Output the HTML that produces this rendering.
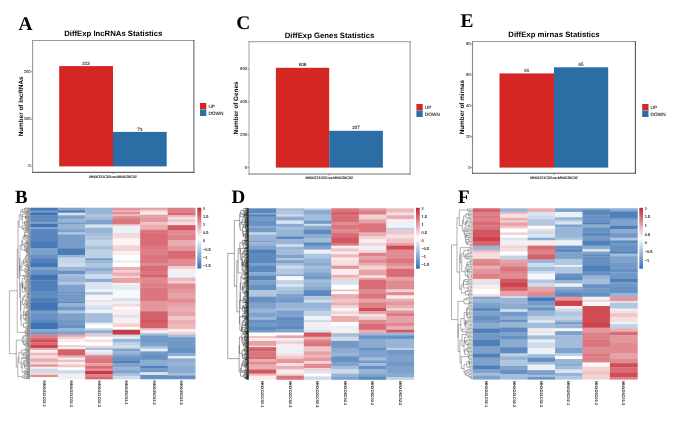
<!DOCTYPE html>
<html><head><meta charset="utf-8"><style>
html,body{margin:0;padding:0;background:#fff;width:685px;height:431px;overflow:hidden}
svg{display:block}
text{font-family:"Liberation Sans",sans-serif;text-rendering:geometricPrecision}
.L{font-family:"Liberation Serif",serif;font-weight:bold;font-size:19.4px;fill:#000}
.T{font-weight:bold;font-size:7.75px;fill:#000}
.V{font-size:4.6px;fill:#222;stroke:#222;stroke-width:0.08px}
.K{font-size:4.2px;fill:#333;stroke:#333;stroke-width:0.1px}
.X{font-size:3.67px;fill:#111;stroke:#111;stroke-width:0.12px}
.Y{font-weight:bold;font-size:6.35px;fill:#000}
.G{font-size:4.77px;fill:#222;stroke:#222;stroke-width:0.1px}
.C{font-size:3.85px;fill:#111;font-weight:bold}
.H{font-size:3.9px;fill:#222;stroke:#222;stroke-width:0.12px}
</style></head><body>
<svg width="685" height="431" viewBox="0 0 685 431" style="will-change:transform">
<text x="18.6" y="29.6" class="L">A</text>
<text x="113.25" y="36.40" class="T" text-anchor="middle">DiffExp lncRNAs Statistics</text>
<rect x="59.2" y="66.1" width="53.80" height="100.30" fill="#d42622"/>
<text x="86.10" y="65.0" class="V" text-anchor="middle">212</text>
<rect x="113.0" y="131.9" width="53.70" height="34.50" fill="#2b6ea6"/>
<text x="139.85" y="130.6" class="V" text-anchor="middle">73</text>
<line x1="32.6" y1="40.0" x2="32.6" y2="172.9" stroke="#999" stroke-width="1.1"/>
<line x1="32.1" y1="40.5" x2="194.4" y2="40.5" stroke="#999" stroke-width="1.1"/>
<line x1="193.9" y1="40.0" x2="193.9" y2="172.9" stroke="#666" stroke-width="1.1"/>
<line x1="32.1" y1="172.4" x2="194.4" y2="172.4" stroke="#666" stroke-width="1.1"/>
<line x1="31.0" y1="166.4" x2="32.6" y2="166.4" stroke="#555" stroke-width="0.6"/>
<text x="30.700000000000003" y="167.3" class="K" text-anchor="end">0</text>
<line x1="31.0" y1="119.1" x2="32.6" y2="119.1" stroke="#555" stroke-width="0.6"/>
<text x="30.700000000000003" y="120.0" class="K" text-anchor="end">100</text>
<line x1="31.0" y1="71.8" x2="32.6" y2="71.8" stroke="#555" stroke-width="0.6"/>
<text x="30.700000000000003" y="72.7" class="K" text-anchor="end">200</text>
<line x1="113.0" y1="172.4" x2="113.0" y2="174.0" stroke="#555" stroke-width="0.6"/>
<text x="113.0" y="177.8" class="X" text-anchor="middle">MNXO21C02-vs-MNXO5C02</text>
<text transform="translate(22.5,106.4) rotate(-90)" class="Y" text-anchor="middle">Number of lncRNAs</text>
<rect x="200" y="103" width="6.3" height="6.4" fill="#d42622"/>
<rect x="200" y="109.6" width="6.3" height="6.4" fill="#2b6ea6"/>
<text x="208.4" y="107.9" class="G">UP</text>
<text x="208.4" y="114.5" class="G">DOWN</text>
<text x="236.3" y="28.8" class="L">C</text>
<text x="329.55" y="37.50" class="T" text-anchor="middle">DiffExp Genes Statistics</text>
<rect x="275.9" y="67.8" width="53.30" height="99.80" fill="#d42622"/>
<text x="302.55" y="66.3" class="V" text-anchor="middle">608</text>
<rect x="329.2" y="130.8" width="53.70" height="36.80" fill="#2b6ea6"/>
<text x="356.05" y="129.2" class="V" text-anchor="middle">227</text>
<line x1="249.0" y1="41.1" x2="249.0" y2="174.5" stroke="#aaa" stroke-width="1.1"/>
<line x1="248.5" y1="41.6" x2="410.6" y2="41.6" stroke="#aaa" stroke-width="1.1"/>
<line x1="410.1" y1="41.1" x2="410.1" y2="174.5" stroke="#999" stroke-width="1.1"/>
<line x1="248.5" y1="174.0" x2="410.6" y2="174.0" stroke="#707070" stroke-width="1.1"/>
<line x1="247.4" y1="167.6" x2="249.0" y2="167.6" stroke="#555" stroke-width="0.6"/>
<text x="247.1" y="168.5" class="K" text-anchor="end">0</text>
<line x1="247.4" y1="134.8" x2="249.0" y2="134.8" stroke="#555" stroke-width="0.6"/>
<text x="247.1" y="135.70000000000002" class="K" text-anchor="end">200</text>
<line x1="247.4" y1="101.9" x2="249.0" y2="101.9" stroke="#555" stroke-width="0.6"/>
<text x="247.1" y="102.80000000000001" class="K" text-anchor="end">400</text>
<line x1="247.4" y1="69.1" x2="249.0" y2="69.1" stroke="#555" stroke-width="0.6"/>
<text x="247.1" y="70.0" class="K" text-anchor="end">600</text>
<line x1="329.2" y1="174.0" x2="329.2" y2="175.6" stroke="#555" stroke-width="0.6"/>
<text x="329.2" y="179.4" class="X" text-anchor="middle">MNXG21C02-vs-MNXG5C02</text>
<text transform="translate(238.2,108) rotate(-90)" class="Y" text-anchor="middle">Number of Genes</text>
<rect x="416.4" y="104" width="6.3" height="6.4" fill="#d42622"/>
<rect x="416.4" y="110.6" width="6.3" height="6.4" fill="#2b6ea6"/>
<text x="424.79999999999995" y="108.9" class="G">UP</text>
<text x="424.79999999999995" y="115.5" class="G">DOWN</text>
<text x="460.5" y="26.8" class="L">E</text>
<text x="553.95" y="37.40" class="T" text-anchor="middle">DiffExp mirnas Statistics</text>
<rect x="499.5" y="73.4" width="54.50" height="94.20" fill="#d42622"/>
<text x="526.75" y="71.8" class="V" text-anchor="middle">61</text>
<rect x="554.0" y="67.3" width="54.20" height="100.30" fill="#2b6ea6"/>
<text x="581.10" y="65.7" class="V" text-anchor="middle">65</text>
<line x1="472.5" y1="41.0" x2="472.5" y2="173.8" stroke="#888" stroke-width="1.1"/>
<line x1="472.0" y1="41.5" x2="635.9" y2="41.5" stroke="#999" stroke-width="1.1"/>
<line x1="635.4" y1="41.0" x2="635.4" y2="173.8" stroke="#555" stroke-width="1.1"/>
<line x1="472.0" y1="173.3" x2="635.9" y2="173.3" stroke="#555" stroke-width="1.1"/>
<line x1="470.9" y1="167.6" x2="472.5" y2="167.6" stroke="#555" stroke-width="0.6"/>
<text x="470.6" y="168.5" class="K" text-anchor="end">0</text>
<line x1="470.9" y1="136.7" x2="472.5" y2="136.7" stroke="#555" stroke-width="0.6"/>
<text x="470.6" y="137.6" class="K" text-anchor="end">20</text>
<line x1="470.9" y1="105.8" x2="472.5" y2="105.8" stroke="#555" stroke-width="0.6"/>
<text x="470.6" y="106.7" class="K" text-anchor="end">40</text>
<line x1="470.9" y1="74.9" x2="472.5" y2="74.9" stroke="#555" stroke-width="0.6"/>
<text x="470.6" y="75.80000000000001" class="K" text-anchor="end">60</text>
<line x1="470.9" y1="44.0" x2="472.5" y2="44.0" stroke="#555" stroke-width="0.6"/>
<text x="470.6" y="44.9" class="K" text-anchor="end">80</text>
<line x1="554.0" y1="173.3" x2="554.0" y2="174.9" stroke="#555" stroke-width="0.6"/>
<text x="554.0" y="178.70000000000002" class="X" text-anchor="middle">MNXO21C02-vs-MNXO5C02</text>
<text transform="translate(463.8,107.2) rotate(-90)" class="Y" text-anchor="middle">Number of mirnas</text>
<rect x="642.2" y="104" width="6.3" height="6.4" fill="#d42622"/>
<rect x="642.2" y="110.6" width="6.3" height="6.4" fill="#2b6ea6"/>
<text x="650.6" y="108.9" class="G">UP</text>
<text x="650.6" y="115.5" class="G">DOWN</text>
<text x="15.0" y="203.2" class="L" style="font-size:18.8px">B</text>
<text x="231.4" y="202.8" class="L" style="font-size:19px">D</text>
<text x="457.9" y="202.8" class="L" style="font-size:19px">F</text>
<rect x="30.20" y="207.70" width="27.80" height="3.23" fill="#4578b5"/>
<rect x="30.20" y="210.63" width="27.80" height="2.28" fill="#739ac7"/>
<rect x="30.20" y="212.61" width="27.80" height="2.94" fill="#3a70b0"/>
<rect x="30.20" y="215.25" width="27.80" height="6.91" fill="#5c89be"/>
<rect x="30.20" y="221.86" width="27.80" height="2.28" fill="#7fa2cc"/>
<rect x="30.20" y="223.84" width="27.80" height="3.60" fill="#4075b3"/>
<rect x="30.20" y="227.15" width="27.80" height="2.28" fill="#7fa2cc"/>
<rect x="30.20" y="229.13" width="27.80" height="12.86" fill="#5785bc"/>
<rect x="30.20" y="241.69" width="27.80" height="6.91" fill="#497bb6"/>
<rect x="30.20" y="248.29" width="27.80" height="6.25" fill="#7fa2cc"/>
<rect x="30.20" y="254.24" width="27.80" height="4.27" fill="#6791c2"/>
<rect x="30.20" y="258.21" width="27.80" height="5.06" fill="#5080b9"/>
<rect x="30.20" y="262.97" width="27.80" height="4.30" fill="#4075b3"/>
<rect x="30.20" y="266.97" width="27.80" height="2.94" fill="#7fa2cc"/>
<rect x="30.20" y="269.61" width="27.80" height="5.59" fill="#6791c2"/>
<rect x="30.20" y="274.90" width="27.80" height="5.59" fill="#4075b3"/>
<rect x="30.20" y="280.18" width="27.80" height="10.87" fill="#5080b9"/>
<rect x="30.20" y="290.76" width="27.80" height="6.91" fill="#608cc0"/>
<rect x="30.20" y="297.36" width="27.80" height="5.59" fill="#5080b9"/>
<rect x="30.20" y="302.65" width="27.80" height="8.23" fill="#4075b3"/>
<rect x="30.20" y="310.58" width="27.80" height="2.94" fill="#739ac7"/>
<rect x="30.20" y="313.22" width="27.80" height="7.04" fill="#6791c2"/>
<rect x="30.20" y="319.97" width="27.80" height="3.12" fill="#5c89be"/>
<rect x="30.20" y="322.79" width="27.80" height="6.57" fill="#4075b3"/>
<rect x="30.20" y="329.05" width="27.80" height="2.39" fill="#8babd1"/>
<rect x="30.20" y="331.14" width="27.80" height="3.78" fill="#739ac7"/>
<rect x="30.20" y="334.62" width="27.80" height="3.09" fill="#dd8188"/>
<rect x="30.20" y="337.41" width="27.80" height="2.39" fill="#d86b74"/>
<rect x="30.20" y="339.50" width="27.80" height="3.09" fill="#d04d56"/>
<rect x="30.20" y="342.28" width="27.80" height="3.09" fill="#d86b74"/>
<rect x="30.20" y="345.07" width="27.80" height="3.09" fill="#cd424d"/>
<rect x="30.20" y="347.86" width="27.80" height="2.39" fill="#e9adb2"/>
<rect x="30.20" y="349.94" width="27.80" height="3.09" fill="#faedee"/>
<rect x="30.20" y="352.73" width="27.80" height="3.09" fill="#ecb9bd"/>
<rect x="30.20" y="355.52" width="27.80" height="3.09" fill="#f6dfe1"/>
<rect x="30.20" y="358.30" width="27.80" height="3.78" fill="#e9adb2"/>
<rect x="30.20" y="361.78" width="27.80" height="3.09" fill="#f3d2d4"/>
<rect x="30.20" y="364.57" width="27.80" height="2.39" fill="#e08b92"/>
<rect x="30.20" y="366.66" width="27.80" height="2.39" fill="#faedee"/>
<rect x="30.20" y="368.75" width="27.80" height="3.78" fill="#cddbeb"/>
<rect x="30.20" y="372.23" width="27.80" height="3.09" fill="#f3d2d4"/>
<rect x="30.20" y="375.01" width="27.80" height="2.39" fill="#e08b92"/>
<rect x="30.20" y="377.10" width="27.80" height="2.20" fill="#ffffff"/>
<rect x="57.70" y="207.70" width="27.80" height="3.23" fill="#7fa2cc"/>
<rect x="57.70" y="210.63" width="27.80" height="2.28" fill="#4075b3"/>
<rect x="57.70" y="212.61" width="27.80" height="2.94" fill="#d5e1ee"/>
<rect x="57.70" y="215.25" width="27.80" height="4.27" fill="#7fa2cc"/>
<rect x="57.70" y="219.22" width="27.80" height="3.60" fill="#98b4d6"/>
<rect x="57.70" y="222.52" width="27.80" height="2.28" fill="#739ac7"/>
<rect x="57.70" y="224.50" width="27.80" height="4.93" fill="#98b4d6"/>
<rect x="57.70" y="229.13" width="27.80" height="3.60" fill="#7fa2cc"/>
<rect x="57.70" y="232.43" width="27.80" height="2.28" fill="#b1c7e0"/>
<rect x="57.70" y="234.42" width="27.80" height="14.18" fill="#789dc9"/>
<rect x="57.70" y="248.29" width="27.80" height="6.91" fill="#497bb6"/>
<rect x="57.70" y="254.90" width="27.80" height="2.94" fill="#98b4d6"/>
<rect x="57.70" y="257.55" width="27.80" height="5.72" fill="#c4d5e8"/>
<rect x="57.70" y="262.97" width="27.80" height="4.30" fill="#cddbeb"/>
<rect x="57.70" y="266.97" width="27.80" height="4.27" fill="#98b4d6"/>
<rect x="57.70" y="270.93" width="27.80" height="3.60" fill="#6791c2"/>
<rect x="57.70" y="274.23" width="27.80" height="2.28" fill="#a4bddb"/>
<rect x="57.70" y="276.22" width="27.80" height="6.25" fill="#98b4d6"/>
<rect x="57.70" y="282.16" width="27.80" height="2.94" fill="#b1c7e0"/>
<rect x="57.70" y="284.81" width="27.80" height="6.91" fill="#7fa2cc"/>
<rect x="57.70" y="291.42" width="27.80" height="2.28" fill="#6791c2"/>
<rect x="57.70" y="293.40" width="27.80" height="8.23" fill="#739ac7"/>
<rect x="57.70" y="301.33" width="27.80" height="2.28" fill="#5c89be"/>
<rect x="57.70" y="303.31" width="27.80" height="3.60" fill="#98b4d6"/>
<rect x="57.70" y="306.62" width="27.80" height="4.27" fill="#739ac7"/>
<rect x="57.70" y="310.58" width="27.80" height="2.94" fill="#b1c7e0"/>
<rect x="57.70" y="313.22" width="27.80" height="7.04" fill="#7fa2cc"/>
<rect x="57.70" y="319.97" width="27.80" height="4.51" fill="#739ac7"/>
<rect x="57.70" y="324.18" width="27.80" height="4.48" fill="#6791c2"/>
<rect x="57.70" y="328.36" width="27.80" height="3.09" fill="#98b4d6"/>
<rect x="57.70" y="331.14" width="27.80" height="3.78" fill="#7fa2cc"/>
<rect x="57.70" y="334.62" width="27.80" height="2.39" fill="#e6a2a7"/>
<rect x="57.70" y="336.71" width="27.80" height="2.39" fill="#f3d2d4"/>
<rect x="57.70" y="338.80" width="27.80" height="3.78" fill="#faedee"/>
<rect x="57.70" y="342.28" width="27.80" height="3.09" fill="#ffffff"/>
<rect x="57.70" y="345.07" width="27.80" height="2.39" fill="#f3d2d4"/>
<rect x="57.70" y="347.16" width="27.80" height="2.39" fill="#ebf1f7"/>
<rect x="57.70" y="349.25" width="27.80" height="6.57" fill="#d5616a"/>
<rect x="57.70" y="355.52" width="27.80" height="2.39" fill="#e9adb2"/>
<rect x="57.70" y="357.60" width="27.80" height="2.39" fill="#faedee"/>
<rect x="57.70" y="359.69" width="27.80" height="2.39" fill="#ecb9bd"/>
<rect x="57.70" y="361.78" width="27.80" height="3.09" fill="#faedee"/>
<rect x="57.70" y="364.57" width="27.80" height="3.09" fill="#f0c5c8"/>
<rect x="57.70" y="367.35" width="27.80" height="3.09" fill="#ffffff"/>
<rect x="57.70" y="370.14" width="27.80" height="3.78" fill="#cddbeb"/>
<rect x="57.70" y="373.62" width="27.80" height="3.78" fill="#ebf1f7"/>
<rect x="57.70" y="377.10" width="27.80" height="2.20" fill="#faedee"/>
<rect x="85.20" y="207.70" width="27.80" height="7.19" fill="#98b4d6"/>
<rect x="85.20" y="214.59" width="27.80" height="2.28" fill="#b1c7e0"/>
<rect x="85.20" y="216.57" width="27.80" height="3.60" fill="#a4bddb"/>
<rect x="85.20" y="219.88" width="27.80" height="4.93" fill="#7fa2cc"/>
<rect x="85.20" y="224.50" width="27.80" height="3.60" fill="#d5e1ee"/>
<rect x="85.20" y="227.81" width="27.80" height="5.59" fill="#98b4d6"/>
<rect x="85.20" y="233.09" width="27.80" height="3.60" fill="#a4bddb"/>
<rect x="85.20" y="236.40" width="27.80" height="4.27" fill="#b1c7e0"/>
<rect x="85.20" y="240.36" width="27.80" height="5.59" fill="#c4d5e8"/>
<rect x="85.20" y="245.65" width="27.80" height="4.27" fill="#aac1dd"/>
<rect x="85.20" y="249.62" width="27.80" height="8.89" fill="#bfd1e5"/>
<rect x="85.20" y="258.21" width="27.80" height="2.28" fill="#739ac7"/>
<rect x="85.20" y="260.19" width="27.80" height="3.08" fill="#98b4d6"/>
<rect x="85.20" y="262.97" width="27.80" height="4.96" fill="#b1c7e0"/>
<rect x="85.20" y="267.63" width="27.80" height="3.60" fill="#8babd1"/>
<rect x="85.20" y="270.93" width="27.80" height="3.60" fill="#a4bddb"/>
<rect x="85.20" y="274.23" width="27.80" height="4.93" fill="#cddbeb"/>
<rect x="85.20" y="278.86" width="27.80" height="3.60" fill="#8babd1"/>
<rect x="85.20" y="282.16" width="27.80" height="7.57" fill="#dbe5f1"/>
<rect x="85.20" y="289.43" width="27.80" height="2.94" fill="#ebf1f7"/>
<rect x="85.20" y="292.08" width="27.80" height="2.94" fill="#b1c7e0"/>
<rect x="85.20" y="294.72" width="27.80" height="5.59" fill="#f2f6fa"/>
<rect x="85.20" y="300.01" width="27.80" height="2.28" fill="#f6dfe1"/>
<rect x="85.20" y="301.99" width="27.80" height="3.60" fill="#ebf1f7"/>
<rect x="85.20" y="305.29" width="27.80" height="4.93" fill="#d5e1ee"/>
<rect x="85.20" y="309.92" width="27.80" height="3.60" fill="#ebf1f7"/>
<rect x="85.20" y="313.22" width="27.80" height="7.04" fill="#a4bddb"/>
<rect x="85.20" y="319.97" width="27.80" height="3.12" fill="#a4bddb"/>
<rect x="85.20" y="322.79" width="27.80" height="2.39" fill="#ebf1f7"/>
<rect x="85.20" y="324.87" width="27.80" height="3.78" fill="#ffffff"/>
<rect x="85.20" y="328.36" width="27.80" height="2.39" fill="#bfd1e5"/>
<rect x="85.20" y="330.45" width="27.80" height="3.09" fill="#8babd1"/>
<rect x="85.20" y="333.23" width="27.80" height="1.69" fill="#bfd1e5"/>
<rect x="85.20" y="334.62" width="27.80" height="2.39" fill="#f0c5c8"/>
<rect x="85.20" y="336.71" width="27.80" height="3.09" fill="#ffffff"/>
<rect x="85.20" y="339.50" width="27.80" height="3.09" fill="#f6dfe1"/>
<rect x="85.20" y="342.28" width="27.80" height="3.78" fill="#ffffff"/>
<rect x="85.20" y="345.77" width="27.80" height="2.39" fill="#f3d2d4"/>
<rect x="85.20" y="347.86" width="27.80" height="2.39" fill="#a4bddb"/>
<rect x="85.20" y="349.94" width="27.80" height="2.39" fill="#ebf1f7"/>
<rect x="85.20" y="352.03" width="27.80" height="2.39" fill="#f6dfe1"/>
<rect x="85.20" y="354.12" width="27.80" height="1.69" fill="#bfd1e5"/>
<rect x="85.20" y="355.52" width="27.80" height="3.78" fill="#dd8188"/>
<rect x="85.20" y="359.00" width="27.80" height="4.48" fill="#db767e"/>
<rect x="85.20" y="363.18" width="27.80" height="3.09" fill="#e6a2a7"/>
<rect x="85.20" y="365.96" width="27.80" height="3.09" fill="#d86b74"/>
<rect x="85.20" y="368.75" width="27.80" height="2.39" fill="#e3969c"/>
<rect x="85.20" y="370.84" width="27.80" height="3.78" fill="#ca3944"/>
<rect x="85.20" y="374.32" width="27.80" height="3.09" fill="#dd8188"/>
<rect x="85.20" y="377.10" width="27.80" height="2.20" fill="#d5616a"/>
<rect x="112.70" y="207.70" width="27.80" height="3.20" fill="#e3969c"/>
<rect x="112.70" y="210.60" width="27.80" height="1.70" fill="#ecb9bd"/>
<rect x="112.70" y="212.00" width="27.80" height="2.30" fill="#e08b92"/>
<rect x="112.70" y="214.00" width="27.80" height="2.40" fill="#ecb9bd"/>
<rect x="112.70" y="216.10" width="27.80" height="2.40" fill="#e08b92"/>
<rect x="112.70" y="218.20" width="27.80" height="6.60" fill="#db767e"/>
<rect x="112.70" y="224.50" width="27.80" height="1.70" fill="#f3d2d4"/>
<rect x="112.70" y="225.90" width="27.80" height="7.30" fill="#ebf1f7"/>
<rect x="112.70" y="232.90" width="27.80" height="5.80" fill="#f5d9dc"/>
<rect x="112.70" y="238.40" width="27.80" height="7.30" fill="#fcf3f4"/>
<rect x="112.70" y="245.40" width="27.80" height="5.90" fill="#f3d2d4"/>
<rect x="112.70" y="251.00" width="27.80" height="4.40" fill="#faedee"/>
<rect x="112.70" y="255.10" width="27.80" height="5.20" fill="#ffffff"/>
<rect x="112.70" y="260.00" width="27.80" height="3.30" fill="#ebf1f7"/>
<rect x="112.70" y="263.00" width="27.80" height="4.20" fill="#ffffff"/>
<rect x="112.70" y="266.90" width="27.80" height="3.80" fill="#e9adb2"/>
<rect x="112.70" y="270.40" width="27.80" height="2.30" fill="#f3d2d4"/>
<rect x="112.70" y="272.40" width="27.80" height="3.80" fill="#e9adb2"/>
<rect x="112.70" y="275.90" width="27.80" height="2.40" fill="#f3d2d4"/>
<rect x="112.70" y="278.00" width="27.80" height="5.20" fill="#e6a2a7"/>
<rect x="112.70" y="282.90" width="27.80" height="2.40" fill="#faedee"/>
<rect x="112.70" y="285.00" width="27.80" height="5.20" fill="#e2eaf3"/>
<rect x="112.70" y="289.90" width="27.80" height="8.60" fill="#f6f8fb"/>
<rect x="112.70" y="298.20" width="27.80" height="3.10" fill="#d5e1ee"/>
<rect x="112.70" y="301.00" width="27.80" height="3.10" fill="#faedee"/>
<rect x="112.70" y="303.80" width="27.80" height="3.10" fill="#f5d9dc"/>
<rect x="112.70" y="306.60" width="27.80" height="3.70" fill="#fdf7f7"/>
<rect x="112.70" y="310.00" width="27.80" height="5.20" fill="#faedee"/>
<rect x="112.70" y="314.90" width="27.80" height="3.10" fill="#dbe5f1"/>
<rect x="112.70" y="317.70" width="27.80" height="2.60" fill="#faedee"/>
<rect x="112.70" y="320.00" width="27.80" height="3.78" fill="#faedee"/>
<rect x="112.70" y="323.48" width="27.80" height="3.78" fill="#f3d2d4"/>
<rect x="112.70" y="326.96" width="27.80" height="3.09" fill="#ffffff"/>
<rect x="112.70" y="329.75" width="27.80" height="5.17" fill="#ca3944"/>
<rect x="112.70" y="334.62" width="27.80" height="2.39" fill="#cddbeb"/>
<rect x="112.70" y="336.71" width="27.80" height="2.39" fill="#ebf1f7"/>
<rect x="112.70" y="338.80" width="27.80" height="3.78" fill="#98b4d6"/>
<rect x="112.70" y="342.28" width="27.80" height="3.09" fill="#bfd1e5"/>
<rect x="112.70" y="345.07" width="27.80" height="3.78" fill="#cddbeb"/>
<rect x="112.70" y="348.55" width="27.80" height="3.09" fill="#7fa2cc"/>
<rect x="112.70" y="351.34" width="27.80" height="3.09" fill="#98b4d6"/>
<rect x="112.70" y="354.12" width="27.80" height="3.09" fill="#7fa2cc"/>
<rect x="112.70" y="356.91" width="27.80" height="3.78" fill="#6791c2"/>
<rect x="112.70" y="360.39" width="27.80" height="3.09" fill="#5080b9"/>
<rect x="112.70" y="363.18" width="27.80" height="4.48" fill="#7fa2cc"/>
<rect x="112.70" y="367.35" width="27.80" height="3.09" fill="#98b4d6"/>
<rect x="112.70" y="370.14" width="27.80" height="3.09" fill="#7fa2cc"/>
<rect x="112.70" y="372.92" width="27.80" height="3.09" fill="#a4bddb"/>
<rect x="112.70" y="375.71" width="27.80" height="3.59" fill="#cddbeb"/>
<rect x="140.20" y="207.70" width="27.80" height="2.57" fill="#e6a2a7"/>
<rect x="140.20" y="209.97" width="27.80" height="2.28" fill="#f3d2d4"/>
<rect x="140.20" y="211.95" width="27.80" height="2.94" fill="#faedee"/>
<rect x="140.20" y="214.59" width="27.80" height="2.94" fill="#e6a2a7"/>
<rect x="140.20" y="217.23" width="27.80" height="4.93" fill="#e3969c"/>
<rect x="140.20" y="221.86" width="27.80" height="2.94" fill="#f0c5c8"/>
<rect x="140.20" y="224.50" width="27.80" height="5.59" fill="#e9adb2"/>
<rect x="140.20" y="229.79" width="27.80" height="4.27" fill="#db767e"/>
<rect x="140.20" y="233.76" width="27.80" height="12.20" fill="#d86b74"/>
<rect x="140.20" y="245.65" width="27.80" height="4.27" fill="#db767e"/>
<rect x="140.20" y="249.62" width="27.80" height="5.59" fill="#dd8188"/>
<rect x="140.20" y="254.90" width="27.80" height="8.36" fill="#db767e"/>
<rect x="140.20" y="262.97" width="27.80" height="2.98" fill="#e08b92"/>
<rect x="140.20" y="265.64" width="27.80" height="6.25" fill="#d86b74"/>
<rect x="140.20" y="271.59" width="27.80" height="3.60" fill="#db767e"/>
<rect x="140.20" y="274.90" width="27.80" height="2.94" fill="#d5616a"/>
<rect x="140.20" y="277.54" width="27.80" height="5.59" fill="#e08b92"/>
<rect x="140.20" y="282.83" width="27.80" height="4.93" fill="#dd8188"/>
<rect x="140.20" y="287.45" width="27.80" height="14.18" fill="#db767e"/>
<rect x="140.20" y="301.33" width="27.80" height="10.21" fill="#e3969c"/>
<rect x="140.20" y="311.24" width="27.80" height="9.02" fill="#d5616a"/>
<rect x="140.20" y="319.97" width="27.80" height="3.12" fill="#d25760"/>
<rect x="140.20" y="322.79" width="27.80" height="5.87" fill="#d5616a"/>
<rect x="140.20" y="328.36" width="27.80" height="2.39" fill="#f0c5c8"/>
<rect x="140.20" y="330.45" width="27.80" height="3.09" fill="#faedee"/>
<rect x="140.20" y="333.23" width="27.80" height="2.39" fill="#a4bddb"/>
<rect x="140.20" y="335.32" width="27.80" height="7.96" fill="#739ac7"/>
<rect x="140.20" y="342.98" width="27.80" height="3.78" fill="#7fa2cc"/>
<rect x="140.20" y="346.46" width="27.80" height="2.39" fill="#a4bddb"/>
<rect x="140.20" y="348.55" width="27.80" height="3.09" fill="#e2eaf3"/>
<rect x="140.20" y="351.34" width="27.80" height="3.78" fill="#739ac7"/>
<rect x="140.20" y="354.82" width="27.80" height="5.17" fill="#6791c2"/>
<rect x="140.20" y="359.69" width="27.80" height="6.57" fill="#8babd1"/>
<rect x="140.20" y="365.96" width="27.80" height="2.39" fill="#5080b9"/>
<rect x="140.20" y="368.05" width="27.80" height="4.48" fill="#739ac7"/>
<rect x="140.20" y="372.23" width="27.80" height="3.09" fill="#dbe5f1"/>
<rect x="140.20" y="375.01" width="27.80" height="4.29" fill="#6791c2"/>
<rect x="167.70" y="207.70" width="27.80" height="5.21" fill="#dd8188"/>
<rect x="167.70" y="212.61" width="27.80" height="2.94" fill="#d86b74"/>
<rect x="167.70" y="215.25" width="27.80" height="2.28" fill="#ecb9bd"/>
<rect x="167.70" y="217.23" width="27.80" height="2.28" fill="#f6dfe1"/>
<rect x="167.70" y="219.22" width="27.80" height="2.94" fill="#f0c5c8"/>
<rect x="167.70" y="221.86" width="27.80" height="3.60" fill="#f6dfe1"/>
<rect x="167.70" y="225.16" width="27.80" height="5.59" fill="#d25760"/>
<rect x="167.70" y="230.45" width="27.80" height="4.27" fill="#e08b92"/>
<rect x="167.70" y="234.42" width="27.80" height="6.25" fill="#dd8188"/>
<rect x="167.70" y="240.36" width="27.80" height="5.59" fill="#e9adb2"/>
<rect x="167.70" y="245.65" width="27.80" height="5.59" fill="#e3969c"/>
<rect x="167.70" y="250.94" width="27.80" height="8.23" fill="#d86b74"/>
<rect x="167.70" y="258.87" width="27.80" height="4.40" fill="#e08b92"/>
<rect x="167.70" y="262.97" width="27.80" height="3.64" fill="#e08b92"/>
<rect x="167.70" y="266.30" width="27.80" height="2.94" fill="#f3d2d4"/>
<rect x="167.70" y="268.95" width="27.80" height="2.94" fill="#faedee"/>
<rect x="167.70" y="271.59" width="27.80" height="6.25" fill="#ebf1f7"/>
<rect x="167.70" y="277.54" width="27.80" height="3.60" fill="#ecb9bd"/>
<rect x="167.70" y="280.84" width="27.80" height="2.94" fill="#f3d2d4"/>
<rect x="167.70" y="283.49" width="27.80" height="5.59" fill="#e08b92"/>
<rect x="167.70" y="288.77" width="27.80" height="4.93" fill="#e3969c"/>
<rect x="167.70" y="293.40" width="27.80" height="5.59" fill="#e6a2a7"/>
<rect x="167.70" y="298.69" width="27.80" height="4.27" fill="#e08b92"/>
<rect x="167.70" y="302.65" width="27.80" height="4.27" fill="#e6a2a7"/>
<rect x="167.70" y="306.62" width="27.80" height="4.93" fill="#e9adb2"/>
<rect x="167.70" y="311.24" width="27.80" height="4.93" fill="#e6a2a7"/>
<rect x="167.70" y="315.87" width="27.80" height="4.40" fill="#f0c5c8"/>
<rect x="167.70" y="319.97" width="27.80" height="4.51" fill="#e9adb2"/>
<rect x="167.70" y="324.18" width="27.80" height="5.17" fill="#ecb9bd"/>
<rect x="167.70" y="329.05" width="27.80" height="3.09" fill="#faedee"/>
<rect x="167.70" y="331.84" width="27.80" height="3.09" fill="#f3d2d4"/>
<rect x="167.70" y="334.62" width="27.80" height="3.09" fill="#a4bddb"/>
<rect x="167.70" y="337.41" width="27.80" height="2.39" fill="#6791c2"/>
<rect x="167.70" y="339.50" width="27.80" height="8.66" fill="#739ac7"/>
<rect x="167.70" y="347.86" width="27.80" height="5.87" fill="#6791c2"/>
<rect x="167.70" y="353.43" width="27.80" height="3.09" fill="#8babd1"/>
<rect x="167.70" y="356.21" width="27.80" height="2.39" fill="#ebf1f7"/>
<rect x="167.70" y="358.30" width="27.80" height="3.78" fill="#8babd1"/>
<rect x="167.70" y="361.78" width="27.80" height="4.48" fill="#98b4d6"/>
<rect x="167.70" y="365.96" width="27.80" height="7.26" fill="#8babd1"/>
<rect x="167.70" y="372.92" width="27.80" height="3.09" fill="#a4bddb"/>
<rect x="167.70" y="375.71" width="27.80" height="3.59" fill="#6791c2"/>
<rect x="248.80" y="208.30" width="27.80" height="5.27" fill="#5c89be"/>
<rect x="248.80" y="213.27" width="27.80" height="1.62" fill="#7fa2cc"/>
<rect x="248.80" y="214.59" width="27.80" height="2.28" fill="#5080b9"/>
<rect x="248.80" y="216.57" width="27.80" height="4.27" fill="#739ac7"/>
<rect x="248.80" y="220.54" width="27.80" height="5.59" fill="#6791c2"/>
<rect x="248.80" y="225.83" width="27.80" height="2.28" fill="#8babd1"/>
<rect x="248.80" y="227.81" width="27.80" height="4.93" fill="#739ac7"/>
<rect x="248.80" y="232.43" width="27.80" height="2.28" fill="#cddbeb"/>
<rect x="248.80" y="234.42" width="27.80" height="6.25" fill="#98b4d6"/>
<rect x="248.80" y="240.36" width="27.80" height="2.28" fill="#7fa2cc"/>
<rect x="248.80" y="242.35" width="27.80" height="3.60" fill="#98b4d6"/>
<rect x="248.80" y="245.65" width="27.80" height="4.27" fill="#7fa2cc"/>
<rect x="248.80" y="249.62" width="27.80" height="4.27" fill="#5080b9"/>
<rect x="248.80" y="253.58" width="27.80" height="9.68" fill="#5c89be"/>
<rect x="248.80" y="262.97" width="27.80" height="2.98" fill="#7fa2cc"/>
<rect x="248.80" y="265.64" width="27.80" height="6.91" fill="#5c89be"/>
<rect x="248.80" y="272.25" width="27.80" height="3.60" fill="#8babd1"/>
<rect x="248.80" y="275.56" width="27.80" height="4.93" fill="#5785bc"/>
<rect x="248.80" y="280.18" width="27.80" height="4.93" fill="#7fa2cc"/>
<rect x="248.80" y="284.81" width="27.80" height="5.59" fill="#6791c2"/>
<rect x="248.80" y="290.09" width="27.80" height="6.91" fill="#b1c7e0"/>
<rect x="248.80" y="296.70" width="27.80" height="6.25" fill="#6791c2"/>
<rect x="248.80" y="302.65" width="27.80" height="6.25" fill="#7fa2cc"/>
<rect x="248.80" y="308.60" width="27.80" height="4.27" fill="#98b4d6"/>
<rect x="248.80" y="312.56" width="27.80" height="4.93" fill="#7fa2cc"/>
<rect x="248.80" y="317.19" width="27.80" height="3.08" fill="#98b4d6"/>
<rect x="248.80" y="319.97" width="27.80" height="3.12" fill="#6791c2"/>
<rect x="248.80" y="322.79" width="27.80" height="3.78" fill="#739ac7"/>
<rect x="248.80" y="326.27" width="27.80" height="3.78" fill="#5c89be"/>
<rect x="248.80" y="329.75" width="27.80" height="3.09" fill="#739ac7"/>
<rect x="248.80" y="332.53" width="27.80" height="3.78" fill="#ffffff"/>
<rect x="248.80" y="336.02" width="27.80" height="2.39" fill="#f0c5c8"/>
<rect x="248.80" y="338.11" width="27.80" height="3.09" fill="#faedee"/>
<rect x="248.80" y="340.89" width="27.80" height="5.17" fill="#e6a2a7"/>
<rect x="248.80" y="345.77" width="27.80" height="1.69" fill="#f6dfe1"/>
<rect x="248.80" y="347.16" width="27.80" height="4.48" fill="#d5616a"/>
<rect x="248.80" y="351.34" width="27.80" height="5.17" fill="#db767e"/>
<rect x="248.80" y="356.21" width="27.80" height="3.09" fill="#d86b74"/>
<rect x="248.80" y="359.00" width="27.80" height="3.09" fill="#e9adb2"/>
<rect x="248.80" y="361.78" width="27.80" height="3.09" fill="#e08b92"/>
<rect x="248.80" y="364.57" width="27.80" height="5.17" fill="#e9adb2"/>
<rect x="248.80" y="369.44" width="27.80" height="4.48" fill="#d25760"/>
<rect x="248.80" y="373.62" width="27.80" height="2.39" fill="#ecb9bd"/>
<rect x="248.80" y="375.71" width="27.80" height="4.09" fill="#faedee"/>
<rect x="276.30" y="208.30" width="27.80" height="2.63" fill="#a4bddb"/>
<rect x="276.30" y="210.63" width="27.80" height="4.27" fill="#b1c7e0"/>
<rect x="276.30" y="214.59" width="27.80" height="2.28" fill="#cddbeb"/>
<rect x="276.30" y="216.57" width="27.80" height="4.27" fill="#8babd1"/>
<rect x="276.30" y="220.54" width="27.80" height="3.60" fill="#dbe5f1"/>
<rect x="276.30" y="223.84" width="27.80" height="3.60" fill="#8babd1"/>
<rect x="276.30" y="227.15" width="27.80" height="2.94" fill="#a4bddb"/>
<rect x="276.30" y="229.79" width="27.80" height="6.91" fill="#98b4d6"/>
<rect x="276.30" y="236.40" width="27.80" height="2.94" fill="#5c89be"/>
<rect x="276.30" y="239.04" width="27.80" height="5.59" fill="#98b4d6"/>
<rect x="276.30" y="244.33" width="27.80" height="2.94" fill="#cddbeb"/>
<rect x="276.30" y="246.97" width="27.80" height="2.94" fill="#98b4d6"/>
<rect x="276.30" y="249.62" width="27.80" height="5.59" fill="#a4bddb"/>
<rect x="276.30" y="254.90" width="27.80" height="3.60" fill="#7fa2cc"/>
<rect x="276.30" y="258.21" width="27.80" height="2.28" fill="#b1c7e0"/>
<rect x="276.30" y="260.19" width="27.80" height="3.08" fill="#7fa2cc"/>
<rect x="276.30" y="262.97" width="27.80" height="2.98" fill="#a4bddb"/>
<rect x="276.30" y="265.64" width="27.80" height="2.94" fill="#cddbeb"/>
<rect x="276.30" y="268.29" width="27.80" height="6.25" fill="#b1c7e0"/>
<rect x="276.30" y="274.23" width="27.80" height="2.28" fill="#8babd1"/>
<rect x="276.30" y="276.22" width="27.80" height="4.27" fill="#f6f8fb"/>
<rect x="276.30" y="280.18" width="27.80" height="4.27" fill="#bfd1e5"/>
<rect x="276.30" y="284.15" width="27.80" height="2.94" fill="#dbe5f1"/>
<rect x="276.30" y="286.79" width="27.80" height="4.27" fill="#b1c7e0"/>
<rect x="276.30" y="290.76" width="27.80" height="3.60" fill="#a4bddb"/>
<rect x="276.30" y="294.06" width="27.80" height="4.27" fill="#7fa2cc"/>
<rect x="276.30" y="298.03" width="27.80" height="4.93" fill="#739ac7"/>
<rect x="276.30" y="302.65" width="27.80" height="5.59" fill="#98b4d6"/>
<rect x="276.30" y="307.94" width="27.80" height="2.94" fill="#a4bddb"/>
<rect x="276.30" y="310.58" width="27.80" height="6.91" fill="#7fa2cc"/>
<rect x="276.30" y="317.19" width="27.80" height="3.08" fill="#5c89be"/>
<rect x="276.30" y="319.97" width="27.80" height="5.91" fill="#6791c2"/>
<rect x="276.30" y="325.57" width="27.80" height="3.78" fill="#5c89be"/>
<rect x="276.30" y="329.05" width="27.80" height="3.78" fill="#7fa2cc"/>
<rect x="276.30" y="332.53" width="27.80" height="3.09" fill="#ffffff"/>
<rect x="276.30" y="335.32" width="27.80" height="3.09" fill="#e6a2a7"/>
<rect x="276.30" y="338.11" width="27.80" height="3.09" fill="#ebf1f7"/>
<rect x="276.30" y="340.89" width="27.80" height="3.78" fill="#f3d2d4"/>
<rect x="276.30" y="344.37" width="27.80" height="3.09" fill="#faedee"/>
<rect x="276.30" y="347.16" width="27.80" height="6.57" fill="#ebf1f7"/>
<rect x="276.30" y="353.43" width="27.80" height="3.09" fill="#f6dfe1"/>
<rect x="276.30" y="356.21" width="27.80" height="3.09" fill="#f0c5c8"/>
<rect x="276.30" y="359.00" width="27.80" height="4.48" fill="#e3969c"/>
<rect x="276.30" y="363.18" width="27.80" height="3.09" fill="#f6dfe1"/>
<rect x="276.30" y="365.96" width="27.80" height="3.78" fill="#e9adb2"/>
<rect x="276.30" y="369.44" width="27.80" height="4.48" fill="#faedee"/>
<rect x="276.30" y="373.62" width="27.80" height="2.39" fill="#f3d2d4"/>
<rect x="276.30" y="375.71" width="27.80" height="4.09" fill="#db767e"/>
<rect x="303.80" y="208.30" width="27.80" height="1.97" fill="#bfd1e5"/>
<rect x="303.80" y="209.97" width="27.80" height="4.93" fill="#8babd1"/>
<rect x="303.80" y="214.59" width="27.80" height="6.25" fill="#a4bddb"/>
<rect x="303.80" y="220.54" width="27.80" height="3.60" fill="#739ac7"/>
<rect x="303.80" y="223.84" width="27.80" height="2.28" fill="#cddbeb"/>
<rect x="303.80" y="225.83" width="27.80" height="4.27" fill="#8babd1"/>
<rect x="303.80" y="229.79" width="27.80" height="4.93" fill="#5c89be"/>
<rect x="303.80" y="234.42" width="27.80" height="3.60" fill="#8babd1"/>
<rect x="303.80" y="237.72" width="27.80" height="4.93" fill="#a4bddb"/>
<rect x="303.80" y="242.35" width="27.80" height="3.60" fill="#5c89be"/>
<rect x="303.80" y="245.65" width="27.80" height="4.27" fill="#7fa2cc"/>
<rect x="303.80" y="249.62" width="27.80" height="4.27" fill="#ebf1f7"/>
<rect x="303.80" y="253.58" width="27.80" height="4.93" fill="#b1c7e0"/>
<rect x="303.80" y="258.21" width="27.80" height="5.06" fill="#98b4d6"/>
<rect x="303.80" y="262.97" width="27.80" height="3.64" fill="#8babd1"/>
<rect x="303.80" y="266.30" width="27.80" height="2.94" fill="#a4bddb"/>
<rect x="303.80" y="268.95" width="27.80" height="3.60" fill="#98b4d6"/>
<rect x="303.80" y="272.25" width="27.80" height="3.60" fill="#7fa2cc"/>
<rect x="303.80" y="275.56" width="27.80" height="4.27" fill="#739ac7"/>
<rect x="303.80" y="279.52" width="27.80" height="3.60" fill="#a4bddb"/>
<rect x="303.80" y="282.83" width="27.80" height="3.60" fill="#98b4d6"/>
<rect x="303.80" y="286.13" width="27.80" height="4.27" fill="#8babd1"/>
<rect x="303.80" y="290.09" width="27.80" height="6.25" fill="#5c89be"/>
<rect x="303.80" y="296.04" width="27.80" height="4.27" fill="#b1c7e0"/>
<rect x="303.80" y="300.01" width="27.80" height="2.94" fill="#cddbeb"/>
<rect x="303.80" y="302.65" width="27.80" height="6.25" fill="#98b4d6"/>
<rect x="303.80" y="308.60" width="27.80" height="2.94" fill="#a4bddb"/>
<rect x="303.80" y="311.24" width="27.80" height="4.93" fill="#bfd1e5"/>
<rect x="303.80" y="315.87" width="27.80" height="4.40" fill="#ebf1f7"/>
<rect x="303.80" y="319.97" width="27.80" height="2.42" fill="#cddbeb"/>
<rect x="303.80" y="322.09" width="27.80" height="3.09" fill="#faedee"/>
<rect x="303.80" y="324.87" width="27.80" height="5.17" fill="#ebf1f7"/>
<rect x="303.80" y="329.75" width="27.80" height="3.09" fill="#dbe5f1"/>
<rect x="303.80" y="332.53" width="27.80" height="4.48" fill="#d25760"/>
<rect x="303.80" y="336.71" width="27.80" height="3.09" fill="#e9adb2"/>
<rect x="303.80" y="339.50" width="27.80" height="3.78" fill="#dd8188"/>
<rect x="303.80" y="342.98" width="27.80" height="3.78" fill="#db767e"/>
<rect x="303.80" y="346.46" width="27.80" height="5.17" fill="#f0c5c8"/>
<rect x="303.80" y="351.34" width="27.80" height="3.78" fill="#e6a2a7"/>
<rect x="303.80" y="354.82" width="27.80" height="3.09" fill="#ecb9bd"/>
<rect x="303.80" y="357.60" width="27.80" height="3.78" fill="#e3969c"/>
<rect x="303.80" y="361.09" width="27.80" height="3.09" fill="#f3d2d4"/>
<rect x="303.80" y="363.87" width="27.80" height="4.48" fill="#e08b92"/>
<rect x="303.80" y="368.05" width="27.80" height="3.09" fill="#f3d2d4"/>
<rect x="303.80" y="370.84" width="27.80" height="3.09" fill="#dbe5f1"/>
<rect x="303.80" y="373.62" width="27.80" height="3.09" fill="#ffffff"/>
<rect x="303.80" y="376.41" width="27.80" height="3.39" fill="#cddbeb"/>
<rect x="331.30" y="208.30" width="27.80" height="3.95" fill="#db767e"/>
<rect x="331.30" y="211.95" width="27.80" height="3.60" fill="#d5616a"/>
<rect x="331.30" y="215.25" width="27.80" height="6.91" fill="#d86b74"/>
<rect x="331.30" y="221.86" width="27.80" height="2.94" fill="#e08b92"/>
<rect x="331.30" y="224.50" width="27.80" height="4.93" fill="#db767e"/>
<rect x="331.30" y="229.13" width="27.80" height="4.27" fill="#e08b92"/>
<rect x="331.30" y="233.09" width="27.80" height="4.93" fill="#d86b74"/>
<rect x="331.30" y="237.72" width="27.80" height="5.59" fill="#d25760"/>
<rect x="331.30" y="243.01" width="27.80" height="2.94" fill="#db767e"/>
<rect x="331.30" y="245.65" width="27.80" height="2.94" fill="#faedee"/>
<rect x="331.30" y="248.29" width="27.80" height="3.60" fill="#f0c5c8"/>
<rect x="331.30" y="251.60" width="27.80" height="2.94" fill="#faedee"/>
<rect x="331.30" y="254.24" width="27.80" height="3.60" fill="#ecb9bd"/>
<rect x="331.30" y="257.55" width="27.80" height="2.94" fill="#faedee"/>
<rect x="331.30" y="260.19" width="27.80" height="3.08" fill="#f6dfe1"/>
<rect x="331.30" y="262.97" width="27.80" height="2.98" fill="#f6dfe1"/>
<rect x="331.30" y="265.64" width="27.80" height="3.60" fill="#e3969c"/>
<rect x="331.30" y="268.95" width="27.80" height="6.25" fill="#faedee"/>
<rect x="331.30" y="274.90" width="27.80" height="2.94" fill="#e9adb2"/>
<rect x="331.30" y="277.54" width="27.80" height="2.94" fill="#f3d2d4"/>
<rect x="331.30" y="280.18" width="27.80" height="4.93" fill="#d5e1ee"/>
<rect x="331.30" y="284.81" width="27.80" height="4.93" fill="#ffffff"/>
<rect x="331.30" y="289.43" width="27.80" height="2.28" fill="#f0c5c8"/>
<rect x="331.30" y="291.42" width="27.80" height="2.94" fill="#ffffff"/>
<rect x="331.30" y="294.06" width="27.80" height="4.93" fill="#e9adb2"/>
<rect x="331.30" y="298.69" width="27.80" height="4.27" fill="#f0c5c8"/>
<rect x="331.30" y="302.65" width="27.80" height="2.94" fill="#e9adb2"/>
<rect x="331.30" y="305.29" width="27.80" height="2.94" fill="#f3d2d4"/>
<rect x="331.30" y="307.94" width="27.80" height="3.60" fill="#f2f6fa"/>
<rect x="331.30" y="311.24" width="27.80" height="2.94" fill="#f3d2d4"/>
<rect x="331.30" y="313.89" width="27.80" height="2.28" fill="#faedee"/>
<rect x="331.30" y="315.87" width="27.80" height="4.40" fill="#e9adb2"/>
<rect x="331.30" y="319.97" width="27.80" height="2.42" fill="#e9adb2"/>
<rect x="331.30" y="322.09" width="27.80" height="3.78" fill="#ffffff"/>
<rect x="331.30" y="325.57" width="27.80" height="5.17" fill="#ebf1f7"/>
<rect x="331.30" y="330.45" width="27.80" height="3.09" fill="#faedee"/>
<rect x="331.30" y="333.23" width="27.80" height="3.78" fill="#a4bddb"/>
<rect x="331.30" y="336.71" width="27.80" height="4.48" fill="#cddbeb"/>
<rect x="331.30" y="340.89" width="27.80" height="7.26" fill="#739ac7"/>
<rect x="331.30" y="347.86" width="27.80" height="5.17" fill="#8babd1"/>
<rect x="331.30" y="352.73" width="27.80" height="3.78" fill="#98b4d6"/>
<rect x="331.30" y="356.21" width="27.80" height="5.87" fill="#6791c2"/>
<rect x="331.30" y="361.78" width="27.80" height="4.48" fill="#7fa2cc"/>
<rect x="331.30" y="365.96" width="27.80" height="3.78" fill="#a4bddb"/>
<rect x="331.30" y="369.44" width="27.80" height="4.48" fill="#cddbeb"/>
<rect x="331.30" y="373.62" width="27.80" height="3.09" fill="#98b4d6"/>
<rect x="331.30" y="376.41" width="27.80" height="3.39" fill="#7fa2cc"/>
<rect x="358.80" y="208.30" width="27.80" height="2.63" fill="#e3969c"/>
<rect x="358.80" y="210.63" width="27.80" height="4.27" fill="#dd8188"/>
<rect x="358.80" y="214.59" width="27.80" height="4.93" fill="#f3d2d4"/>
<rect x="358.80" y="219.22" width="27.80" height="4.27" fill="#e6a2a7"/>
<rect x="358.80" y="223.18" width="27.80" height="9.55" fill="#db767e"/>
<rect x="358.80" y="232.43" width="27.80" height="4.27" fill="#e9adb2"/>
<rect x="358.80" y="236.40" width="27.80" height="2.94" fill="#f3d2d4"/>
<rect x="358.80" y="239.04" width="27.80" height="4.27" fill="#faedee"/>
<rect x="358.80" y="243.01" width="27.80" height="2.94" fill="#f3d2d4"/>
<rect x="358.80" y="245.65" width="27.80" height="4.93" fill="#ebf1f7"/>
<rect x="358.80" y="250.28" width="27.80" height="2.94" fill="#f3d2d4"/>
<rect x="358.80" y="252.92" width="27.80" height="3.60" fill="#dd8188"/>
<rect x="358.80" y="256.22" width="27.80" height="3.60" fill="#e6a2a7"/>
<rect x="358.80" y="259.53" width="27.80" height="3.74" fill="#e08b92"/>
<rect x="358.80" y="262.97" width="27.80" height="2.98" fill="#e9adb2"/>
<rect x="358.80" y="265.64" width="27.80" height="4.27" fill="#f3d2d4"/>
<rect x="358.80" y="269.61" width="27.80" height="6.25" fill="#e6a2a7"/>
<rect x="358.80" y="275.56" width="27.80" height="2.28" fill="#faedee"/>
<rect x="358.80" y="277.54" width="27.80" height="2.28" fill="#e9adb2"/>
<rect x="358.80" y="279.52" width="27.80" height="10.21" fill="#d86b74"/>
<rect x="358.80" y="289.43" width="27.80" height="4.27" fill="#e08b92"/>
<rect x="358.80" y="293.40" width="27.80" height="5.59" fill="#db767e"/>
<rect x="358.80" y="298.69" width="27.80" height="4.27" fill="#e6a2a7"/>
<rect x="358.80" y="302.65" width="27.80" height="5.59" fill="#dd8188"/>
<rect x="358.80" y="307.94" width="27.80" height="3.60" fill="#d04d56"/>
<rect x="358.80" y="311.24" width="27.80" height="2.94" fill="#e6a2a7"/>
<rect x="358.80" y="313.89" width="27.80" height="3.60" fill="#f6dfe1"/>
<rect x="358.80" y="317.19" width="27.80" height="3.08" fill="#f0c5c8"/>
<rect x="358.80" y="319.97" width="27.80" height="3.82" fill="#e08b92"/>
<rect x="358.80" y="323.48" width="27.80" height="6.57" fill="#d86b74"/>
<rect x="358.80" y="329.75" width="27.80" height="3.78" fill="#e9adb2"/>
<rect x="358.80" y="333.23" width="27.80" height="2.39" fill="#98b4d6"/>
<rect x="358.80" y="335.32" width="27.80" height="3.78" fill="#6791c2"/>
<rect x="358.80" y="338.80" width="27.80" height="9.35" fill="#8babd1"/>
<rect x="358.80" y="347.86" width="27.80" height="2.39" fill="#6791c2"/>
<rect x="358.80" y="349.94" width="27.80" height="7.96" fill="#7fa2cc"/>
<rect x="358.80" y="357.60" width="27.80" height="3.09" fill="#a4bddb"/>
<rect x="358.80" y="360.39" width="27.80" height="3.09" fill="#739ac7"/>
<rect x="358.80" y="363.18" width="27.80" height="3.09" fill="#a4bddb"/>
<rect x="358.80" y="365.96" width="27.80" height="3.78" fill="#6791c2"/>
<rect x="358.80" y="369.44" width="27.80" height="4.48" fill="#98b4d6"/>
<rect x="358.80" y="373.62" width="27.80" height="3.09" fill="#7fa2cc"/>
<rect x="358.80" y="376.41" width="27.80" height="3.39" fill="#5c89be"/>
<rect x="386.30" y="208.30" width="27.80" height="4.61" fill="#ecb9bd"/>
<rect x="386.30" y="212.61" width="27.80" height="2.94" fill="#f6dfe1"/>
<rect x="386.30" y="215.25" width="27.80" height="4.27" fill="#e9adb2"/>
<rect x="386.30" y="219.22" width="27.80" height="2.94" fill="#faedee"/>
<rect x="386.30" y="221.86" width="27.80" height="6.25" fill="#ebf1f7"/>
<rect x="386.30" y="227.81" width="27.80" height="2.94" fill="#bfd1e5"/>
<rect x="386.30" y="230.45" width="27.80" height="4.27" fill="#f0c5c8"/>
<rect x="386.30" y="234.42" width="27.80" height="4.27" fill="#f6dfe1"/>
<rect x="386.30" y="238.38" width="27.80" height="4.93" fill="#f0c5c8"/>
<rect x="386.30" y="243.01" width="27.80" height="2.94" fill="#e6a2a7"/>
<rect x="386.30" y="245.65" width="27.80" height="4.27" fill="#d04d56"/>
<rect x="386.30" y="249.62" width="27.80" height="4.27" fill="#e08b92"/>
<rect x="386.30" y="253.58" width="27.80" height="5.59" fill="#e08b92"/>
<rect x="386.30" y="258.87" width="27.80" height="4.40" fill="#db767e"/>
<rect x="386.30" y="262.97" width="27.80" height="2.98" fill="#e08b92"/>
<rect x="386.30" y="265.64" width="27.80" height="3.60" fill="#e6a2a7"/>
<rect x="386.30" y="268.95" width="27.80" height="8.23" fill="#d86b74"/>
<rect x="386.30" y="276.88" width="27.80" height="4.27" fill="#e6a2a7"/>
<rect x="386.30" y="280.84" width="27.80" height="8.89" fill="#e08b92"/>
<rect x="386.30" y="289.43" width="27.80" height="2.94" fill="#f3d2d4"/>
<rect x="386.30" y="292.08" width="27.80" height="3.60" fill="#e08b92"/>
<rect x="386.30" y="295.38" width="27.80" height="3.60" fill="#faedee"/>
<rect x="386.30" y="298.69" width="27.80" height="2.94" fill="#e9adb2"/>
<rect x="386.30" y="301.33" width="27.80" height="4.27" fill="#e3969c"/>
<rect x="386.30" y="305.29" width="27.80" height="2.94" fill="#e9adb2"/>
<rect x="386.30" y="307.94" width="27.80" height="2.94" fill="#f3d2d4"/>
<rect x="386.30" y="310.58" width="27.80" height="2.94" fill="#e3969c"/>
<rect x="386.30" y="313.22" width="27.80" height="2.94" fill="#db767e"/>
<rect x="386.30" y="315.87" width="27.80" height="4.40" fill="#e6a2a7"/>
<rect x="386.30" y="319.97" width="27.80" height="3.12" fill="#e6a2a7"/>
<rect x="386.30" y="322.79" width="27.80" height="3.78" fill="#e08b92"/>
<rect x="386.30" y="326.27" width="27.80" height="3.78" fill="#e9adb2"/>
<rect x="386.30" y="329.75" width="27.80" height="3.09" fill="#d25760"/>
<rect x="386.30" y="332.53" width="27.80" height="3.09" fill="#98b4d6"/>
<rect x="386.30" y="335.32" width="27.80" height="3.78" fill="#6791c2"/>
<rect x="386.30" y="338.80" width="27.80" height="9.35" fill="#98b4d6"/>
<rect x="386.30" y="347.86" width="27.80" height="2.39" fill="#bfd1e5"/>
<rect x="386.30" y="349.94" width="27.80" height="5.17" fill="#739ac7"/>
<rect x="386.30" y="354.82" width="27.80" height="7.26" fill="#7fa2cc"/>
<rect x="386.30" y="361.78" width="27.80" height="4.48" fill="#739ac7"/>
<rect x="386.30" y="365.96" width="27.80" height="7.26" fill="#7fa2cc"/>
<rect x="386.30" y="372.92" width="27.80" height="4.48" fill="#8babd1"/>
<rect x="386.30" y="377.10" width="27.80" height="2.70" fill="#bfd1e5"/>
<rect x="472.70" y="208.30" width="27.75" height="3.95" fill="#d5616a"/>
<rect x="472.70" y="211.95" width="27.75" height="3.60" fill="#dd8188"/>
<rect x="472.70" y="215.25" width="27.75" height="3.60" fill="#db767e"/>
<rect x="472.70" y="218.56" width="27.75" height="3.60" fill="#dd8188"/>
<rect x="472.70" y="221.86" width="27.75" height="3.60" fill="#d86b74"/>
<rect x="472.70" y="225.16" width="27.75" height="4.93" fill="#db767e"/>
<rect x="472.70" y="229.79" width="27.75" height="6.91" fill="#d25760"/>
<rect x="472.70" y="236.40" width="27.75" height="4.93" fill="#cd424d"/>
<rect x="472.70" y="241.03" width="27.75" height="4.93" fill="#d5616a"/>
<rect x="472.70" y="245.65" width="27.75" height="4.27" fill="#98b4d6"/>
<rect x="472.70" y="249.62" width="27.75" height="2.28" fill="#e9adb2"/>
<rect x="472.70" y="251.60" width="27.75" height="2.28" fill="#f3d2d4"/>
<rect x="472.70" y="253.58" width="27.75" height="5.59" fill="#f6dfe1"/>
<rect x="472.70" y="258.87" width="27.75" height="4.40" fill="#e08b92"/>
<rect x="472.70" y="262.97" width="27.75" height="2.98" fill="#dd8188"/>
<rect x="472.70" y="265.64" width="27.75" height="3.60" fill="#e9adb2"/>
<rect x="472.70" y="268.95" width="27.75" height="4.93" fill="#e3969c"/>
<rect x="472.70" y="273.57" width="27.75" height="5.59" fill="#dd8188"/>
<rect x="472.70" y="278.86" width="27.75" height="2.94" fill="#f6dfe1"/>
<rect x="472.70" y="281.50" width="27.75" height="3.60" fill="#dbe5f1"/>
<rect x="472.70" y="284.81" width="27.75" height="4.93" fill="#faedee"/>
<rect x="472.70" y="289.43" width="27.75" height="4.93" fill="#ffffff"/>
<rect x="472.70" y="294.06" width="27.75" height="2.94" fill="#f6dfe1"/>
<rect x="472.70" y="296.70" width="27.75" height="2.28" fill="#7fa2cc"/>
<rect x="472.70" y="298.69" width="27.75" height="4.27" fill="#98b4d6"/>
<rect x="472.70" y="302.65" width="27.75" height="5.59" fill="#7fa2cc"/>
<rect x="472.70" y="307.94" width="27.75" height="3.60" fill="#5c89be"/>
<rect x="472.70" y="311.24" width="27.75" height="4.93" fill="#7fa2cc"/>
<rect x="472.70" y="315.87" width="27.75" height="4.40" fill="#6791c2"/>
<rect x="472.70" y="319.97" width="27.75" height="3.12" fill="#739ac7"/>
<rect x="472.70" y="322.79" width="27.75" height="5.87" fill="#8babd1"/>
<rect x="472.70" y="328.36" width="27.75" height="5.17" fill="#5080b9"/>
<rect x="472.70" y="333.23" width="27.75" height="6.57" fill="#739ac7"/>
<rect x="472.70" y="339.50" width="27.75" height="7.26" fill="#5080b9"/>
<rect x="472.70" y="346.46" width="27.75" height="7.26" fill="#7fa2cc"/>
<rect x="472.70" y="353.43" width="27.75" height="4.48" fill="#5080b9"/>
<rect x="472.70" y="357.60" width="27.75" height="7.96" fill="#7fa2cc"/>
<rect x="472.70" y="365.26" width="27.75" height="4.48" fill="#5080b9"/>
<rect x="472.70" y="369.44" width="27.75" height="3.78" fill="#7fa2cc"/>
<rect x="472.70" y="372.92" width="27.75" height="3.09" fill="#a4bddb"/>
<rect x="472.70" y="375.71" width="27.75" height="3.89" fill="#7fa2cc"/>
<rect x="500.15" y="208.30" width="27.75" height="3.95" fill="#98b4d6"/>
<rect x="500.15" y="211.95" width="27.75" height="2.28" fill="#ecb9bd"/>
<rect x="500.15" y="213.93" width="27.75" height="4.27" fill="#f6dfe1"/>
<rect x="500.15" y="217.90" width="27.75" height="2.94" fill="#e9adb2"/>
<rect x="500.15" y="220.54" width="27.75" height="2.28" fill="#f3d2d4"/>
<rect x="500.15" y="222.52" width="27.75" height="3.60" fill="#e6a2a7"/>
<rect x="500.15" y="225.83" width="27.75" height="2.94" fill="#f0c5c8"/>
<rect x="500.15" y="228.47" width="27.75" height="4.27" fill="#ffffff"/>
<rect x="500.15" y="232.43" width="27.75" height="2.94" fill="#f3d2d4"/>
<rect x="500.15" y="235.08" width="27.75" height="2.94" fill="#ffffff"/>
<rect x="500.15" y="237.72" width="27.75" height="2.94" fill="#dbe5f1"/>
<rect x="500.15" y="240.36" width="27.75" height="2.28" fill="#faedee"/>
<rect x="500.15" y="242.35" width="27.75" height="3.60" fill="#ebf1f7"/>
<rect x="500.15" y="245.65" width="27.75" height="2.94" fill="#f3d2d4"/>
<rect x="500.15" y="248.29" width="27.75" height="3.60" fill="#f6dfe1"/>
<rect x="500.15" y="251.60" width="27.75" height="4.27" fill="#ffffff"/>
<rect x="500.15" y="255.56" width="27.75" height="4.27" fill="#bfd1e5"/>
<rect x="500.15" y="259.53" width="27.75" height="3.74" fill="#e6a2a7"/>
<rect x="500.15" y="262.97" width="27.75" height="3.64" fill="#e3969c"/>
<rect x="500.15" y="266.30" width="27.75" height="4.93" fill="#db767e"/>
<rect x="500.15" y="270.93" width="27.75" height="2.94" fill="#dd8188"/>
<rect x="500.15" y="273.57" width="27.75" height="5.59" fill="#e08b92"/>
<rect x="500.15" y="278.86" width="27.75" height="3.60" fill="#d25760"/>
<rect x="500.15" y="282.16" width="27.75" height="4.93" fill="#cd424d"/>
<rect x="500.15" y="286.79" width="27.75" height="4.27" fill="#d5616a"/>
<rect x="500.15" y="290.76" width="27.75" height="5.59" fill="#e6a2a7"/>
<rect x="500.15" y="296.04" width="27.75" height="2.28" fill="#cddbeb"/>
<rect x="500.15" y="298.03" width="27.75" height="6.25" fill="#98b4d6"/>
<rect x="500.15" y="303.97" width="27.75" height="5.59" fill="#8babd1"/>
<rect x="500.15" y="309.26" width="27.75" height="2.94" fill="#cddbeb"/>
<rect x="500.15" y="311.90" width="27.75" height="4.27" fill="#739ac7"/>
<rect x="500.15" y="315.87" width="27.75" height="4.40" fill="#8babd1"/>
<rect x="500.15" y="319.97" width="27.75" height="2.42" fill="#6791c2"/>
<rect x="500.15" y="322.09" width="27.75" height="5.87" fill="#98b4d6"/>
<rect x="500.15" y="327.66" width="27.75" height="4.48" fill="#5c89be"/>
<rect x="500.15" y="331.84" width="27.75" height="3.78" fill="#7fa2cc"/>
<rect x="500.15" y="335.32" width="27.75" height="4.48" fill="#6791c2"/>
<rect x="500.15" y="339.50" width="27.75" height="7.96" fill="#8babd1"/>
<rect x="500.15" y="347.16" width="27.75" height="6.57" fill="#5c89be"/>
<rect x="500.15" y="353.43" width="27.75" height="3.09" fill="#bfd1e5"/>
<rect x="500.15" y="356.21" width="27.75" height="4.48" fill="#98b4d6"/>
<rect x="500.15" y="360.39" width="27.75" height="5.87" fill="#b1c7e0"/>
<rect x="500.15" y="365.96" width="27.75" height="3.78" fill="#7fa2cc"/>
<rect x="500.15" y="369.44" width="27.75" height="5.17" fill="#6791c2"/>
<rect x="500.15" y="374.32" width="27.75" height="5.28" fill="#a4bddb"/>
<rect x="527.60" y="208.30" width="27.75" height="3.95" fill="#e9adb2"/>
<rect x="527.60" y="211.95" width="27.75" height="3.60" fill="#dbe5f1"/>
<rect x="527.60" y="215.25" width="27.75" height="4.27" fill="#cddbeb"/>
<rect x="527.60" y="219.22" width="27.75" height="6.91" fill="#b1c7e0"/>
<rect x="527.60" y="225.83" width="27.75" height="2.94" fill="#ffffff"/>
<rect x="527.60" y="228.47" width="27.75" height="2.28" fill="#f6dfe1"/>
<rect x="527.60" y="230.45" width="27.75" height="4.27" fill="#cddbeb"/>
<rect x="527.60" y="234.42" width="27.75" height="3.60" fill="#dbe5f1"/>
<rect x="527.60" y="237.72" width="27.75" height="2.94" fill="#8babd1"/>
<rect x="527.60" y="240.36" width="27.75" height="5.59" fill="#faedee"/>
<rect x="527.60" y="245.65" width="27.75" height="4.27" fill="#d86b74"/>
<rect x="527.60" y="249.62" width="27.75" height="4.93" fill="#dd8188"/>
<rect x="527.60" y="254.24" width="27.75" height="5.59" fill="#d5616a"/>
<rect x="527.60" y="259.53" width="27.75" height="3.74" fill="#98b4d6"/>
<rect x="527.60" y="262.97" width="27.75" height="4.30" fill="#cddbeb"/>
<rect x="527.60" y="266.97" width="27.75" height="4.27" fill="#a4bddb"/>
<rect x="527.60" y="270.93" width="27.75" height="2.94" fill="#cddbeb"/>
<rect x="527.60" y="273.57" width="27.75" height="6.25" fill="#f6f8fb"/>
<rect x="527.60" y="279.52" width="27.75" height="3.60" fill="#b1c7e0"/>
<rect x="527.60" y="282.83" width="27.75" height="4.27" fill="#cddbeb"/>
<rect x="527.60" y="286.79" width="27.75" height="4.93" fill="#e6a2a7"/>
<rect x="527.60" y="291.42" width="27.75" height="4.93" fill="#e08b92"/>
<rect x="527.60" y="296.04" width="27.75" height="1.62" fill="#8babd1"/>
<rect x="527.60" y="297.36" width="27.75" height="4.27" fill="#4578b5"/>
<rect x="527.60" y="301.33" width="27.75" height="4.27" fill="#739ac7"/>
<rect x="527.60" y="305.29" width="27.75" height="2.94" fill="#8babd1"/>
<rect x="527.60" y="307.94" width="27.75" height="2.94" fill="#6791c2"/>
<rect x="527.60" y="310.58" width="27.75" height="5.59" fill="#98b4d6"/>
<rect x="527.60" y="315.87" width="27.75" height="4.40" fill="#bfd1e5"/>
<rect x="527.60" y="319.97" width="27.75" height="3.12" fill="#dbe5f1"/>
<rect x="527.60" y="322.79" width="27.75" height="5.87" fill="#a4bddb"/>
<rect x="527.60" y="328.36" width="27.75" height="3.09" fill="#ebf1f7"/>
<rect x="527.60" y="331.14" width="27.75" height="2.39" fill="#f6dfe1"/>
<rect x="527.60" y="333.23" width="27.75" height="2.39" fill="#ebf1f7"/>
<rect x="527.60" y="335.32" width="27.75" height="4.48" fill="#a4bddb"/>
<rect x="527.60" y="339.50" width="27.75" height="3.09" fill="#ebf1f7"/>
<rect x="527.60" y="342.28" width="27.75" height="5.87" fill="#cddbeb"/>
<rect x="527.60" y="347.86" width="27.75" height="6.57" fill="#ebf1f7"/>
<rect x="527.60" y="354.12" width="27.75" height="3.78" fill="#a4bddb"/>
<rect x="527.60" y="357.60" width="27.75" height="4.48" fill="#6791c2"/>
<rect x="527.60" y="361.78" width="27.75" height="3.09" fill="#a4bddb"/>
<rect x="527.60" y="364.57" width="27.75" height="5.87" fill="#ebf1f7"/>
<rect x="527.60" y="370.14" width="27.75" height="5.17" fill="#7fa2cc"/>
<rect x="527.60" y="375.01" width="27.75" height="2.39" fill="#a4bddb"/>
<rect x="527.60" y="377.10" width="27.75" height="2.50" fill="#6791c2"/>
<rect x="555.05" y="208.30" width="27.75" height="3.95" fill="#7fa2cc"/>
<rect x="555.05" y="211.95" width="27.75" height="5.59" fill="#ebf1f7"/>
<rect x="555.05" y="217.23" width="27.75" height="2.94" fill="#98b4d6"/>
<rect x="555.05" y="219.88" width="27.75" height="2.28" fill="#bfd1e5"/>
<rect x="555.05" y="221.86" width="27.75" height="2.94" fill="#dbe5f1"/>
<rect x="555.05" y="224.50" width="27.75" height="2.94" fill="#7fa2cc"/>
<rect x="555.05" y="227.15" width="27.75" height="10.87" fill="#98b4d6"/>
<rect x="555.05" y="237.72" width="27.75" height="2.94" fill="#b1c7e0"/>
<rect x="555.05" y="240.36" width="27.75" height="5.59" fill="#ebf1f7"/>
<rect x="555.05" y="245.65" width="27.75" height="2.94" fill="#6791c2"/>
<rect x="555.05" y="248.29" width="27.75" height="4.27" fill="#5c89be"/>
<rect x="555.05" y="252.26" width="27.75" height="6.91" fill="#7fa2cc"/>
<rect x="555.05" y="258.87" width="27.75" height="4.40" fill="#b1c7e0"/>
<rect x="555.05" y="262.97" width="27.75" height="2.32" fill="#b1c7e0"/>
<rect x="555.05" y="264.98" width="27.75" height="2.28" fill="#ebf1f7"/>
<rect x="555.05" y="266.97" width="27.75" height="6.91" fill="#b1c7e0"/>
<rect x="555.05" y="273.57" width="27.75" height="2.94" fill="#6791c2"/>
<rect x="555.05" y="276.22" width="27.75" height="4.27" fill="#5c89be"/>
<rect x="555.05" y="280.18" width="27.75" height="3.60" fill="#98b4d6"/>
<rect x="555.05" y="283.49" width="27.75" height="3.60" fill="#ebf1f7"/>
<rect x="555.05" y="286.79" width="27.75" height="2.94" fill="#8babd1"/>
<rect x="555.05" y="289.43" width="27.75" height="3.60" fill="#739ac7"/>
<rect x="555.05" y="292.74" width="27.75" height="4.27" fill="#5c89be"/>
<rect x="555.05" y="296.70" width="27.75" height="4.27" fill="#e3969c"/>
<rect x="555.05" y="300.67" width="27.75" height="5.59" fill="#cd424d"/>
<rect x="555.05" y="305.96" width="27.75" height="2.94" fill="#faedee"/>
<rect x="555.05" y="308.60" width="27.75" height="2.94" fill="#cddbeb"/>
<rect x="555.05" y="311.24" width="27.75" height="4.93" fill="#b1c7e0"/>
<rect x="555.05" y="315.87" width="27.75" height="4.40" fill="#bfd1e5"/>
<rect x="555.05" y="319.97" width="27.75" height="2.42" fill="#a4bddb"/>
<rect x="555.05" y="322.09" width="27.75" height="2.39" fill="#739ac7"/>
<rect x="555.05" y="324.18" width="27.75" height="4.48" fill="#98b4d6"/>
<rect x="555.05" y="328.36" width="27.75" height="3.09" fill="#f6f8fb"/>
<rect x="555.05" y="331.14" width="27.75" height="4.48" fill="#7fa2cc"/>
<rect x="555.05" y="335.32" width="27.75" height="12.83" fill="#a4bddb"/>
<rect x="555.05" y="347.86" width="27.75" height="5.87" fill="#7fa2cc"/>
<rect x="555.05" y="353.43" width="27.75" height="3.09" fill="#bfd1e5"/>
<rect x="555.05" y="356.21" width="27.75" height="3.09" fill="#ffffff"/>
<rect x="555.05" y="359.00" width="27.75" height="4.48" fill="#98b4d6"/>
<rect x="555.05" y="363.18" width="27.75" height="3.09" fill="#8babd1"/>
<rect x="555.05" y="365.96" width="27.75" height="3.78" fill="#a4bddb"/>
<rect x="555.05" y="369.44" width="27.75" height="3.78" fill="#dbe5f1"/>
<rect x="555.05" y="372.92" width="27.75" height="3.78" fill="#98b4d6"/>
<rect x="555.05" y="376.41" width="27.75" height="3.19" fill="#b1c7e0"/>
<rect x="582.50" y="208.30" width="27.75" height="1.97" fill="#7fa2cc"/>
<rect x="582.50" y="209.97" width="27.75" height="5.59" fill="#5c89be"/>
<rect x="582.50" y="215.25" width="27.75" height="3.60" fill="#6791c2"/>
<rect x="582.50" y="218.56" width="27.75" height="4.27" fill="#6791c2"/>
<rect x="582.50" y="222.52" width="27.75" height="2.28" fill="#5080b9"/>
<rect x="582.50" y="224.50" width="27.75" height="3.60" fill="#8babd1"/>
<rect x="582.50" y="227.81" width="27.75" height="4.93" fill="#6791c2"/>
<rect x="582.50" y="232.43" width="27.75" height="4.27" fill="#5c89be"/>
<rect x="582.50" y="236.40" width="27.75" height="4.27" fill="#739ac7"/>
<rect x="582.50" y="240.36" width="27.75" height="5.59" fill="#5080b9"/>
<rect x="582.50" y="245.65" width="27.75" height="3.60" fill="#8babd1"/>
<rect x="582.50" y="248.96" width="27.75" height="2.94" fill="#dbe5f1"/>
<rect x="582.50" y="251.60" width="27.75" height="2.94" fill="#7fa2cc"/>
<rect x="582.50" y="254.24" width="27.75" height="2.28" fill="#5c89be"/>
<rect x="582.50" y="256.22" width="27.75" height="7.04" fill="#6791c2"/>
<rect x="582.50" y="262.97" width="27.75" height="2.98" fill="#6791c2"/>
<rect x="582.50" y="265.64" width="27.75" height="6.25" fill="#5080b9"/>
<rect x="582.50" y="271.59" width="27.75" height="4.27" fill="#6791c2"/>
<rect x="582.50" y="275.56" width="27.75" height="4.27" fill="#98b4d6"/>
<rect x="582.50" y="279.52" width="27.75" height="4.93" fill="#a4bddb"/>
<rect x="582.50" y="284.15" width="27.75" height="4.27" fill="#6791c2"/>
<rect x="582.50" y="288.11" width="27.75" height="4.93" fill="#739ac7"/>
<rect x="582.50" y="292.74" width="27.75" height="4.27" fill="#6791c2"/>
<rect x="582.50" y="296.70" width="27.75" height="3.60" fill="#ebf1f7"/>
<rect x="582.50" y="300.01" width="27.75" height="2.28" fill="#f3d2d4"/>
<rect x="582.50" y="301.99" width="27.75" height="4.27" fill="#f6f8fb"/>
<rect x="582.50" y="305.96" width="27.75" height="14.31" fill="#d04d56"/>
<rect x="582.50" y="319.97" width="27.75" height="2.42" fill="#d04d56"/>
<rect x="582.50" y="322.09" width="27.75" height="5.87" fill="#cd424d"/>
<rect x="582.50" y="327.66" width="27.75" height="5.17" fill="#e3969c"/>
<rect x="582.50" y="332.53" width="27.75" height="7.26" fill="#dd8188"/>
<rect x="582.50" y="339.50" width="27.75" height="7.96" fill="#db767e"/>
<rect x="582.50" y="347.16" width="27.75" height="6.57" fill="#e08b92"/>
<rect x="582.50" y="353.43" width="27.75" height="3.09" fill="#db767e"/>
<rect x="582.50" y="356.21" width="27.75" height="6.57" fill="#dd8188"/>
<rect x="582.50" y="362.48" width="27.75" height="4.48" fill="#fdf7f7"/>
<rect x="582.50" y="366.66" width="27.75" height="4.48" fill="#f3d2d4"/>
<rect x="582.50" y="370.84" width="27.75" height="4.48" fill="#f0c5c8"/>
<rect x="582.50" y="375.01" width="27.75" height="4.59" fill="#f3d2d4"/>
<rect x="609.95" y="208.30" width="27.75" height="3.29" fill="#8babd1"/>
<rect x="609.95" y="211.29" width="27.75" height="6.91" fill="#5080b9"/>
<rect x="609.95" y="217.90" width="27.75" height="2.94" fill="#739ac7"/>
<rect x="609.95" y="220.54" width="27.75" height="5.59" fill="#7fa2cc"/>
<rect x="609.95" y="225.83" width="27.75" height="3.60" fill="#5080b9"/>
<rect x="609.95" y="229.13" width="27.75" height="4.27" fill="#8babd1"/>
<rect x="609.95" y="233.09" width="27.75" height="4.93" fill="#739ac7"/>
<rect x="609.95" y="237.72" width="27.75" height="2.94" fill="#b1c7e0"/>
<rect x="609.95" y="240.36" width="27.75" height="2.94" fill="#5c89be"/>
<rect x="609.95" y="243.01" width="27.75" height="2.94" fill="#739ac7"/>
<rect x="609.95" y="245.65" width="27.75" height="6.25" fill="#6791c2"/>
<rect x="609.95" y="251.60" width="27.75" height="2.28" fill="#5080b9"/>
<rect x="609.95" y="253.58" width="27.75" height="2.94" fill="#a4bddb"/>
<rect x="609.95" y="256.22" width="27.75" height="7.04" fill="#7fa2cc"/>
<rect x="609.95" y="262.97" width="27.75" height="5.62" fill="#739ac7"/>
<rect x="609.95" y="268.29" width="27.75" height="4.27" fill="#6791c2"/>
<rect x="609.95" y="272.25" width="27.75" height="6.91" fill="#739ac7"/>
<rect x="609.95" y="278.86" width="27.75" height="3.60" fill="#5080b9"/>
<rect x="609.95" y="282.16" width="27.75" height="4.93" fill="#739ac7"/>
<rect x="609.95" y="286.79" width="27.75" height="6.91" fill="#6791c2"/>
<rect x="609.95" y="293.40" width="27.75" height="3.60" fill="#98b4d6"/>
<rect x="609.95" y="296.70" width="27.75" height="4.93" fill="#e3969c"/>
<rect x="609.95" y="301.33" width="27.75" height="1.62" fill="#faedee"/>
<rect x="609.95" y="302.65" width="27.75" height="6.25" fill="#b1c7e0"/>
<rect x="609.95" y="308.60" width="27.75" height="2.28" fill="#ebf1f7"/>
<rect x="609.95" y="310.58" width="27.75" height="2.94" fill="#f6dfe1"/>
<rect x="609.95" y="313.22" width="27.75" height="4.27" fill="#f0c5c8"/>
<rect x="609.95" y="317.19" width="27.75" height="3.08" fill="#f6dfe1"/>
<rect x="609.95" y="319.97" width="27.75" height="2.42" fill="#f6dfe1"/>
<rect x="609.95" y="322.09" width="27.75" height="2.39" fill="#ebf1f7"/>
<rect x="609.95" y="324.18" width="27.75" height="4.48" fill="#bfd1e5"/>
<rect x="609.95" y="328.36" width="27.75" height="3.78" fill="#e9adb2"/>
<rect x="609.95" y="331.84" width="27.75" height="3.78" fill="#d86b74"/>
<rect x="609.95" y="335.32" width="27.75" height="7.26" fill="#e3969c"/>
<rect x="609.95" y="342.28" width="27.75" height="5.87" fill="#e08b92"/>
<rect x="609.95" y="347.86" width="27.75" height="5.87" fill="#e08b92"/>
<rect x="609.95" y="353.43" width="27.75" height="5.87" fill="#e6a2a7"/>
<rect x="609.95" y="359.00" width="27.75" height="4.48" fill="#e08b92"/>
<rect x="609.95" y="363.18" width="27.75" height="4.48" fill="#d04d56"/>
<rect x="609.95" y="367.35" width="27.75" height="5.87" fill="#d86b74"/>
<rect x="609.95" y="372.92" width="27.75" height="4.48" fill="#d04d56"/>
<rect x="609.95" y="377.10" width="27.75" height="2.50" fill="#dd8188"/>
<path d="M30.00 263.30H29.61V263.90H30.00M30.00 240.46H29.55V241.06H30.00M30.00 214.01H29.52V214.61H30.00M30.00 259.09H29.47V259.69H30.00M30.00 309.58H29.47V310.18H30.00M30.00 352.85H29.35V353.46H30.00M30.00 233.24H29.30V233.85H30.00M30.00 255.48H29.18V256.08H30.00M30.00 277.72H29.15V278.32H30.00M30.00 232.64H29.12V233.55H29.30M30.00 366.68H29.11V367.28H30.00M29.18 255.78H29.05V256.69H30.00M30.00 238.65H28.90V239.26H30.00M30.00 209.80H28.90V210.40H30.00M30.00 298.76H28.86V299.36H30.00M30.00 346.84H28.84V347.44H30.00M30.00 234.45H28.83V235.05H30.00M29.05 256.24H28.82V257.29H30.00M30.00 303.57H28.78V304.17H30.00M30.00 289.14H28.68V289.74H30.00M30.00 298.16H28.64V299.06H28.86M30.00 369.08H28.56V369.68H30.00M30.00 325.21H28.51V325.81H30.00M30.00 348.65H28.50V349.25H30.00M30.00 236.25H28.50V236.85H30.00M30.00 257.89H28.50V258.49H30.00M30.00 293.35H28.47V293.95H30.00M30.00 254.28H28.47V254.88H30.00M30.00 322.20H28.47V322.80H30.00M30.00 337.23H28.43V337.83H30.00M30.00 218.82H28.43V219.42H30.00M30.00 319.20H28.43V319.80H30.00M30.00 285.54H28.40V286.14H30.00M30.00 308.38H28.35V308.98H30.00M30.00 294.55H28.34V295.15H30.00M30.00 252.48H28.33V253.08H30.00M30.00 311.38H28.33V311.98H30.00M29.47 309.88H28.30V310.78H30.00M30.00 260.89H28.27V261.49H30.00M30.00 272.31H28.27V272.91H30.00M30.00 315.59H28.26V316.19H30.00M30.00 338.43H28.24V339.03H30.00M30.00 264.50H28.20V265.10H30.00M28.47 293.65H28.19V294.85H28.34M30.00 247.07H28.18V247.67H30.00M30.00 273.52H28.17V274.12H30.00M30.00 313.18H28.14V313.79H30.00M30.00 281.33H28.14V281.93H30.00M30.00 299.96H28.09V300.56H30.00M30.00 324.00H28.05V324.60H30.00M30.00 364.27H28.04V364.88H30.00M30.00 376.90H28.01V377.50H30.00M30.00 250.68H27.97V251.28H30.00M30.00 267.50H27.96V268.11H30.00M30.00 366.08H27.95V366.98H29.11M30.00 237.45H27.91V238.05H30.00M30.00 268.71H27.88V269.31H30.00M30.00 355.26H27.87V355.86H30.00M28.51 325.51H27.86V326.41H30.00M30.00 282.53H27.85V283.13H30.00M30.00 306.57H27.82V307.17H30.00M30.00 290.95H27.80V291.55H30.00M30.00 245.27H27.77V245.87H30.00M30.00 327.61H27.77V328.21H30.00M30.00 321.60H27.77V322.50H28.47M28.47 254.58H27.76V256.76H28.82M30.00 287.94H27.75V288.54H30.00M30.00 344.44H27.72V345.04H30.00M30.00 232.04H27.65V233.09H29.12M28.43 319.50H27.64V320.40H30.00M30.00 220.62H27.61V221.22H30.00M28.56 369.38H27.55V370.28H30.00M27.88 269.01H27.52V269.91H30.00M28.43 337.53H27.51V338.73H28.24M30.00 296.36H27.48V296.96H30.00M30.00 284.33H27.48V284.94H30.00M30.00 230.24H27.47V230.84H30.00M30.00 370.89H27.47V371.49H30.00M28.50 258.19H27.44V259.39H29.47M30.00 374.49H27.43V375.09H30.00M30.00 270.51H27.43V271.11H30.00M30.00 243.46H27.43V244.06H30.00M30.00 227.23H27.43V227.84H30.00M27.91 237.75H27.42V238.95H28.90M30.00 330.62H27.42V331.22H30.00M30.00 373.89H27.40V374.79H27.43M30.00 359.47H27.37V360.07H30.00M30.00 317.39H27.37V317.99H30.00M30.00 335.42H27.35V336.02H30.00M30.00 292.75H27.35V294.25H28.19M30.00 349.85H27.35V350.45H30.00M30.00 241.66H27.34V242.26H30.00M30.00 223.63H27.32V224.23H30.00M30.00 208.60H27.27V209.20H30.00M30.00 226.03H27.26V226.63H30.00M27.34 241.96H27.24V242.86H30.00M30.00 346.24H27.23V347.14H28.84M30.00 361.87H27.21V362.47H30.00M28.20 264.80H27.20V265.70H30.00M27.97 250.98H27.18V251.88H30.00M29.61 263.60H27.17V265.25H27.20M30.00 367.88H27.16V368.48H30.00M30.00 302.37H27.14V302.97H30.00M29.52 214.31H27.13V215.21H30.00M30.00 278.92H27.12V279.53H30.00M30.00 275.92H27.10V276.52H30.00M30.00 331.82H27.10V332.42H30.00M30.00 220.02H27.08V220.92H27.61M30.00 351.65H27.07V352.25H30.00M28.90 210.10H27.06V211.01H30.00M30.00 253.68H27.01V255.67H27.76M30.00 329.41H26.98V330.01H30.00M30.00 342.64H26.96V343.24H30.00M27.86 325.96H26.95V327.01H30.00M30.00 333.62H26.93V334.22H30.00M28.30 310.33H26.93V311.68H28.33M30.00 376.30H26.90V377.20H28.01M27.85 282.83H26.90V283.73H30.00M27.77 327.91H26.90V328.81H30.00M30.00 340.83H26.89V341.43H30.00M30.00 323.40H26.87V324.30H28.05M28.78 303.87H26.85V304.77H30.00M30.00 307.78H26.82V308.68H28.35M27.14 302.67H26.80V304.32H26.85M30.00 260.29H26.79V261.19H28.27M30.00 340.23H26.78V341.13H26.89M27.35 293.50H26.78V295.75H30.00M30.00 246.47H26.76V247.37H28.18M27.24 242.41H26.76V243.76H27.43M30.00 361.27H26.75V362.17H27.21M26.96 342.94H26.74V343.84H30.00M30.00 266.30H26.72V266.90H30.00M26.93 311.01H26.71V312.58H30.00M28.64 298.61H26.71V300.26H28.09M28.27 272.61H26.69V273.82H28.17M30.00 228.44H26.69V229.04H30.00M30.00 333.02H26.67V333.92H26.93M26.98 329.71H26.65V330.92H27.42M27.48 296.66H26.64V297.56H30.00M30.00 217.02H26.59V217.62H30.00M30.00 314.99H26.58V315.89H28.26M30.00 216.42H26.56V217.32H26.59M30.00 280.13H26.56V280.73H30.00M28.04 364.57H26.50V365.48H30.00M27.08 220.47H26.48V221.82H30.00M28.50 348.95H26.46V350.15H27.35M27.07 351.95H26.45V353.15H29.35M27.43 270.81H26.45V271.71H30.00M30.00 250.07H26.42V251.43H27.18M29.55 240.76H26.42V243.09H26.76M30.00 345.64H26.41V346.69H27.23M27.01 254.68H26.41V258.79H27.44M26.42 250.75H26.38V252.78H28.33M27.47 371.19H26.38V372.09H30.00M26.80 303.49H26.35V305.37H30.00M30.00 222.43H26.34V223.03H30.00M27.82 306.87H26.31V308.23H26.82M30.00 363.07H26.30V363.67H30.00M27.37 359.77H26.25V360.67H30.00M30.00 357.06H26.22V357.66H30.00M26.56 280.43H26.19V281.63H28.14M27.51 338.13H26.19V339.63H30.00M27.75 288.24H26.18V289.44H28.68M30.00 348.05H26.18V349.55H26.46M30.00 274.72H26.16V275.32H30.00M28.40 285.84H26.10V286.74H30.00M27.87 355.56H26.09V356.46H30.00M30.00 314.39H26.02V315.44H26.58M27.17 264.42H25.96V266.60H26.72M26.71 311.79H25.95V313.49H28.14M30.00 218.22H25.94V219.12H28.43M27.77 322.05H25.94V323.85H26.87M28.50 236.55H25.92V238.35H27.42M30.00 378.10H25.91V378.70H30.00M30.00 358.26H25.89V358.86H30.00M26.50 365.03H25.84V366.53H27.95M26.95 326.48H25.80V328.36H26.90M26.71 299.44H25.80V301.16H30.00M27.26 226.33H25.79V227.53H27.43M26.76 246.92H25.76V248.27H30.00M30.00 249.47H25.75V251.76H26.38M27.55 369.83H25.74V371.64H26.38M26.42 241.92H25.72V244.66H30.00M28.83 234.75H25.71V235.65H30.00M27.96 267.81H25.64V269.46H27.52M26.45 271.26H25.64V273.21H26.69M25.95 312.64H25.63V314.91H26.02M30.00 318.59H25.60V319.95H27.64M26.19 281.03H25.59V283.28H26.90M30.00 213.41H25.58V214.76H27.13M25.63 313.78H25.52V316.79H30.00M30.00 334.82H25.51V335.72H27.35M30.00 212.21H25.50V212.81H30.00M25.60 319.27H25.47V321.00H30.00M30.00 372.69H25.46V373.29H30.00M26.56 216.87H25.46V218.67H25.94M26.79 260.74H25.45V262.10H30.00M30.00 215.81H25.43V217.77H25.46M30.00 287.34H25.38V288.84H26.18M26.18 348.80H25.35V351.05H30.00M26.41 256.73H25.35V261.42H25.45M27.32 223.93H25.34V224.83H30.00M25.71 235.20H25.33V237.45H25.92M30.00 290.34H25.33V291.25H27.80M27.72 344.74H25.32V346.17H26.41M30.00 354.06H25.23V354.66H30.00M25.51 335.27H25.20V336.63H30.00M26.65 330.31H25.18V332.12H27.10M30.00 301.76H25.15V304.43H26.35M25.79 226.93H25.08V228.74H26.69M30.00 229.64H25.06V230.54H27.47M25.18 331.22H25.02V333.47H26.67M27.37 317.69H25.02V320.13H25.47M30.00 231.44H24.99V232.57H27.65M25.38 288.09H24.97V290.80H25.33M26.74 343.39H24.85V345.45H25.32M25.64 268.63H24.84V272.24H25.64M25.84 365.78H24.75V368.18H27.16M26.48 221.15H24.71V222.73H26.34M25.46 372.99H24.69V374.34H27.40M27.77 245.57H24.68V247.59H25.76M30.00 208.00H24.64V208.90H27.27M24.71 221.94H24.61V224.38H25.34M24.99 232.01H24.59V236.33H25.33M27.10 276.22H24.57V277.12H30.00M24.64 208.45H24.56V210.56H27.06M30.00 248.87H24.49V250.62H25.75M26.78 294.63H24.47V297.11H26.64M26.10 286.29H24.43V289.44H24.97M26.30 363.37H24.41V366.98H24.75M29.15 278.02H24.41V279.23H27.12M26.90 376.75H24.20V378.40H25.91M25.74 370.74H24.18V373.67H24.69M24.59 234.17H24.13V239.86H30.00M26.31 307.55H24.12V315.28H25.52M25.72 243.29H24.04V246.58H24.68M26.45 352.55H23.99V354.36H25.23M30.00 262.70H23.98V265.51H25.96M25.15 303.10H23.98V305.97H30.00M26.25 360.22H23.93V361.72H26.75M23.93 360.97H23.80V365.18H24.41M25.35 259.08H23.60V264.11H23.98M25.94 322.95H23.53V327.42H25.80M26.16 275.02H23.51V276.67H24.57M30.00 211.61H23.49V212.51H25.50M24.12 311.42H23.43V318.91H25.02M26.78 340.68H23.37V342.04H30.00M25.08 227.84H23.33V230.09H25.06M24.47 295.87H23.27V300.30H25.80M25.20 335.95H23.22V338.88H26.19M23.37 341.36H23.21V344.42H24.85M23.99 353.46H23.13V356.01H26.09M27.48 284.63H22.87V287.87H24.43M24.13 237.01H22.74V244.94H24.04M26.22 357.36H22.57V358.56H25.89M25.58 214.09H22.43V216.79H25.43M30.00 375.69H22.41V377.57H24.20M22.43 215.44H22.39V223.16H24.61M23.27 298.08H22.37V304.54H23.98M23.22 337.41H22.36V342.89H23.21M25.59 282.16H22.31V286.25H22.87M24.56 209.50H22.25V212.06H23.49M23.80 363.07H22.22V372.20H24.18M22.31 284.20H22.19V292.15H30.00M24.41 278.62H22.14V288.18H22.19M30.00 225.43H22.11V228.96H23.33M25.35 349.92H21.92V354.73H23.13M23.60 261.59H21.86V270.43H24.84M22.74 240.97H21.67V249.75H24.49M22.57 357.96H21.22V367.64H22.22M23.43 315.17H21.03V325.19H23.53M22.25 210.78H20.85V219.30H22.39M22.37 301.31H20.78V320.18H21.03M22.14 283.40H20.50V310.74H20.78M21.86 266.01H20.03V275.84H23.51M21.67 245.36H19.95V270.93H20.03M19.95 258.14H19.56V297.07H20.50M20.85 215.04H19.15V227.20H22.11M21.92 352.33H18.83V362.80H21.22M19.15 221.12H18.04V277.61H19.56M18.83 357.56H17.80V376.63H22.41M18.04 249.36H17.24V332.34H25.02M22.36 340.15H16.27V367.10H17.80M17.24 290.85H9.40V353.63H16.27" fill="none" stroke="#222" stroke-width="0.34"/>
<path d="M248.60 297.80H248.43V298.00H248.60M248.60 249.20H248.40V249.41H248.60M248.60 281.60H248.39V281.80H248.60M248.60 366.69H248.31V366.89H248.60M248.60 269.30H248.30V269.50H248.60M248.60 364.23H248.29V364.43H248.60M248.60 286.93H248.29V287.13H248.60M248.60 227.88H248.28V228.09H248.60M248.60 304.56H248.27V304.77H248.60M248.60 241.82H248.23V242.03H248.60M248.60 374.68H248.22V374.89H248.60M248.60 275.86H248.22V276.06H248.60M248.40 249.31H248.22V249.61H248.60M248.60 239.36H248.20V239.57H248.60M248.60 216.60H248.18V216.81H248.60M248.60 252.89H248.17V253.10H248.60M248.60 259.45H248.17V259.66H248.60M248.60 368.74H248.15V368.94H248.60M248.60 223.98H248.15V224.19H248.60M248.29 287.03H248.14V287.34H248.60M248.60 372.84H248.14V373.04H248.60M248.60 301.69H248.14V301.90H248.60M248.60 288.77H248.14V288.98H248.60M248.60 278.32H248.13V278.52H248.60M248.60 288.16H248.13V288.36H248.60M248.60 370.58H248.13V370.79H248.60M248.60 316.04H248.13V316.25H248.60M248.60 237.52H248.12V237.72H248.60M248.60 299.85H248.11V300.05H248.60M248.60 266.43H248.09V266.63H248.60M248.60 322.60H248.08V322.81H248.60M248.60 294.31H248.08V294.52H248.60M248.60 273.81H248.08V274.01H248.60M248.60 255.15H248.08V255.35H248.60M248.60 369.15H248.08V369.35H248.60M248.60 313.99H248.07V314.20H248.60M248.60 308.25H248.07V308.46H248.60M248.60 315.63H248.06V315.84H248.60M248.60 271.55H248.06V271.76H248.60M248.60 352.95H248.05V353.15H248.60M248.60 301.28H248.05V301.49H248.60M248.60 241.62H248.04V241.92H248.23M248.60 327.11H248.04V327.32H248.60M248.60 345.57H248.04V345.77H248.60M248.60 320.96H248.04V321.17H248.60M248.60 235.26H248.04V235.47H248.60M248.60 252.48H248.04V252.69H248.60M248.60 366.48H248.03V366.79H248.31M248.60 238.54H248.02V238.75H248.60M248.60 289.80H248.02V290.00H248.60M248.60 210.04H248.01V210.25H248.60M248.60 296.98H248.01V297.18H248.60M248.60 341.06H248.01V341.26H248.60M248.60 258.63H248.00V258.84H248.60M248.60 337.78H248.00V337.98H248.60M248.60 293.08H247.99V293.28H248.60M248.60 356.84H247.98V357.05H248.60M248.60 283.44H247.97V283.65H248.60M248.60 344.34H247.96V344.54H248.60M248.60 347.62H247.96V347.82H248.60M248.60 257.61H247.95V257.81H248.60M248.60 213.32H247.95V213.53H248.60M248.30 269.40H247.95V269.71H248.60M248.60 290.82H247.95V291.03H248.60M248.60 299.23H247.95V299.44H248.60M248.60 355.00H247.93V355.20H248.60M248.60 286.52H247.93V286.72H248.60M248.60 363.41H247.92V363.61H248.60M248.22 275.96H247.92V276.27H248.60M248.60 324.45H247.91V324.65H248.60M248.60 287.54H247.90V287.75H248.60M248.03 366.63H247.89V367.10H248.60M248.60 371.20H247.89V371.40H248.60M248.60 245.92H247.89V246.13H248.60M248.60 244.49H247.89V244.69H248.60M248.60 305.18H247.89V305.38H248.60M248.60 275.65H247.88V276.11H247.92M248.60 361.97H247.87V362.17H248.60M248.60 267.86H247.87V268.07H248.60M248.60 336.34H247.87V336.55H248.60M248.60 367.30H247.86V367.51H248.60M248.60 232.80H247.86V233.01H248.60M248.60 233.62H247.86V233.83H248.60M248.60 378.37H247.85V378.58H248.60M248.60 284.06H247.84V284.26H248.60M248.60 326.70H247.83V326.91H248.60M248.60 339.21H247.83V339.42H248.60M248.60 319.73H247.82V319.94H248.60M248.04 345.67H247.82V345.98H248.60M248.60 343.72H247.81V343.93H248.60M248.60 301.08H247.80V301.38H248.05M248.60 355.41H247.80V355.61H248.60M248.60 239.16H247.80V239.46H248.20M248.60 243.26H247.79V243.46H248.60M248.60 242.85H247.79V243.05H248.60M248.60 340.24H247.79V340.44H248.60M248.60 341.47H247.79V341.67H248.60M248.60 357.87H247.79V358.07H248.60M248.60 255.56H247.79V255.76H248.60M248.60 305.79H247.77V306.00H248.60M248.60 360.33H247.77V360.53H248.60M248.60 323.63H247.77V323.83H248.60M248.60 370.99H247.77V371.30H247.89M248.60 297.39H247.77V297.59H248.60M248.60 335.52H247.76V335.73H248.60M248.60 242.23H247.76V242.44H248.60M248.60 329.17H247.75V329.37H248.60M248.60 339.83H247.74V340.03H248.60M248.60 228.91H247.74V229.11H248.60M248.60 353.56H247.74V353.77H248.60M248.60 289.18H247.73V289.39H248.60M248.60 285.29H247.73V285.49H248.60M248.60 245.72H247.73V246.03H247.89M248.60 245.31H247.73V245.51H248.60M247.83 326.81H247.72V327.22H248.04M248.60 279.55H247.72V279.75H248.60M248.60 262.74H247.72V262.94H248.60M248.60 211.68H247.72V211.89H248.60M248.60 303.95H247.72V304.15H248.60M248.60 246.33H247.71V246.54H248.60M248.60 270.12H247.70V270.32H248.60M248.60 349.67H247.70V349.87H248.60M248.60 335.32H247.69V335.62H247.76M248.60 260.48H247.69V260.69H248.60M248.60 251.05H247.68V251.25H248.60M248.60 325.06H247.66V325.27H248.60M248.60 254.33H247.65V254.53H248.60M248.60 356.64H247.64V356.95H247.98M248.60 227.27H247.63V227.47H248.60M248.08 255.25H247.63V255.66H247.79M248.60 260.07H247.62V260.28H248.60M248.60 322.19H247.62V322.40H248.60M248.60 348.85H247.61V349.05H248.60M248.15 368.84H247.61V369.25H248.08M248.60 378.99H247.61V379.19H248.60M248.60 315.02H247.61V315.22H248.60M248.60 209.84H247.61V210.15H248.01M248.60 366.07H247.60V366.28H248.60M247.69 260.58H247.60V260.89H248.60M248.60 218.65H247.59V218.86H248.60M248.60 338.19H247.59V338.39H248.60M248.60 273.60H247.59V273.91H248.08M248.60 373.25H247.59V373.45H248.60M248.60 220.70H247.59V220.91H248.60M248.60 232.19H247.58V232.39H248.60M247.73 285.39H247.58V285.70H248.60M248.60 244.08H247.58V244.28H248.60M248.60 328.14H247.57V328.35H248.60M248.60 303.74H247.57V304.05H247.72M247.96 344.44H247.56V344.75H248.60M248.12 237.62H247.56V237.93H248.60M248.60 330.19H247.56V330.40H248.60M248.60 369.97H247.56V370.17H248.60M248.60 348.03H247.56V348.23H248.60M248.60 300.26H247.56V300.46H248.60M248.60 320.14H247.56V320.35H248.60M248.60 274.83H247.56V275.04H248.60M248.60 337.37H247.55V337.57H248.60M248.60 294.93H247.55V295.13H248.60M248.60 256.79H247.55V256.99H248.60M248.43 297.90H247.55V298.21H248.60M248.60 291.64H247.55V291.85H248.60M248.60 227.68H247.55V227.98H248.28M247.61 348.95H247.55V349.26H248.60M248.60 360.94H247.55V361.15H248.60M248.60 334.50H247.54V334.70H248.60M247.86 233.72H247.54V234.03H248.60M248.60 255.97H247.54V256.17H248.60M248.60 290.21H247.53V290.41H248.60M248.60 311.94H247.53V312.15H248.60M248.60 361.76H247.53V362.07H247.87M248.60 230.34H247.53V230.55H248.60M248.60 231.37H247.53V231.57H248.60M248.60 277.70H247.53V277.91H248.60M248.60 360.12H247.53V360.43H247.77M248.60 298.41H247.52V298.62H248.60M248.60 264.58H247.51V264.79H248.60M248.60 330.81H247.51V331.01H248.60M248.60 372.02H247.51V372.22H248.60M247.51 330.91H247.51V331.22H248.60M248.60 274.63H247.50V274.93H247.56M248.60 353.36H247.50V353.67H247.74M248.60 226.04H247.50V226.24H248.60M248.60 295.34H247.49V295.54H248.60M248.60 359.10H247.48V359.30H248.60M248.60 237.11H247.47V237.31H248.60M248.60 321.37H247.47V321.58H248.60M248.60 209.43H247.47V209.63H248.60M248.60 258.43H247.46V258.74H248.00M247.80 239.31H247.46V239.77H248.60M248.60 223.16H247.46V223.37H248.60M247.79 243.36H247.46V243.67H248.60M248.60 212.09H247.46V212.30H248.60M248.60 328.76H247.46V328.96H248.60M248.60 241.00H247.46V241.21H248.60M247.72 279.65H247.45V279.96H248.60M248.60 295.75H247.45V295.95H248.60M247.74 229.01H247.45V229.32H248.60M248.13 278.42H247.44V278.73H248.60M248.60 265.40H247.44V265.61H248.60M248.60 280.78H247.44V280.98H248.60M248.08 294.41H247.43V294.72H248.60M248.01 341.16H247.43V341.57H247.79M248.60 309.89H247.42V310.10H248.60M248.60 309.48H247.42V309.69H248.60M247.71 246.44H247.41V246.74H248.60M247.68 251.15H247.41V251.46H248.60M248.60 216.40H247.41V216.71H248.18M247.46 223.27H247.41V223.57H248.60M248.60 351.92H247.41V352.13H248.60M248.60 329.78H247.41V329.99H248.60M248.60 268.68H247.40V268.89H248.60M248.60 270.53H247.40V270.73H248.60M248.60 310.51H247.40V310.71H248.60M248.60 248.79H247.40V249.00H248.60M247.61 369.04H247.40V369.56H248.60M248.60 271.96H247.39V272.17H248.60M248.60 325.68H247.38V325.88H248.60M247.69 335.47H247.38V335.93H248.60M248.60 296.57H247.38V296.77H248.60M248.60 362.79H247.37V363.00H248.60M248.60 374.07H247.37V374.27H248.60M248.60 342.49H247.37V342.70H248.60M248.60 220.29H247.36V220.50H248.60M248.60 326.09H247.36V326.29H248.60M248.60 252.07H247.36V252.28H248.60M248.60 283.85H247.35V284.16H247.84M248.60 238.34H247.35V238.64H248.02M248.60 317.27H247.34V317.48H248.60M248.60 373.66H247.34V373.86H248.60M248.60 234.24H247.34V234.44H248.60M247.55 361.05H247.33V361.35H248.60M248.60 312.76H247.33V312.97H248.60M248.60 342.08H247.32V342.29H248.60M247.53 290.31H247.32V290.62H248.60M248.60 352.54H247.31V352.74H248.60M248.60 282.21H247.31V282.42H248.60M248.60 217.63H247.31V217.83H248.60M247.73 245.87H247.31V246.59H247.41M248.60 214.14H247.30V214.35H248.60M247.77 305.89H247.30V306.20H248.60M248.60 263.76H247.30V263.97H248.60M248.60 375.91H247.30V376.12H248.60M248.07 314.10H247.30V314.40H248.60M248.60 275.45H247.29V275.88H247.88M248.60 236.90H247.28V237.21H247.47M248.29 364.33H247.28V364.64H248.60M247.97 283.55H247.28V284.01H247.35M247.31 352.64H247.28V353.05H248.05M248.60 361.56H247.28V361.92H247.53M248.60 233.21H247.27V233.42H248.60M248.60 256.38H247.27V256.58H248.60M248.60 264.17H247.27V264.38H248.60M247.54 334.60H247.27V334.91H248.60M248.60 358.28H247.26V358.48H248.60M248.60 321.99H247.26V322.30H247.62M248.60 209.22H247.24V209.53H247.47M248.60 309.07H247.24V309.28H248.60M248.60 350.49H247.24V350.69H248.60M248.60 287.95H247.24V288.26H248.13M248.60 294.11H247.23V294.57H247.43M248.60 226.65H247.23V226.86H248.60M248.04 235.36H247.22V235.67H248.60M248.60 222.14H247.21V222.34H248.60M248.60 324.04H247.20V324.24H248.60M247.31 217.73H247.19V218.04H248.60M247.24 209.38H247.19V209.99H247.61M248.60 247.77H247.19V247.97H248.60M248.60 288.57H247.19V288.88H248.14M248.60 277.50H247.18V277.81H247.53M248.60 229.93H247.18V230.14H248.60M248.39 281.70H247.18V282.01H248.60M247.72 327.01H247.18V327.52H248.60M248.60 236.08H247.17V236.29H248.60M248.60 293.90H247.17V294.34H247.23M248.60 368.33H247.16V368.53H248.60M248.60 371.81H247.16V372.12H247.51M247.56 330.29H247.15V330.60H248.60M248.60 216.19H247.13V216.55H247.41M248.60 292.87H247.13V293.18H247.99M247.58 244.18H247.13V244.59H247.89M247.33 312.87H247.13V313.17H248.60M247.56 320.25H247.13V320.55H248.60M248.60 338.60H247.12V338.80H248.60M247.28 237.06H247.12V237.77H247.56M248.60 307.43H247.11V307.64H248.60M248.60 356.43H247.11V356.79H247.64M248.60 219.88H247.11V220.09H248.60M248.60 235.88H247.10V236.18H247.17M248.60 250.43H247.10V250.64H248.60M247.27 334.75H247.09V335.11H248.60M248.01 297.08H247.09V297.49H247.77M248.60 304.36H247.09V304.66H248.27M248.60 303.13H247.08V303.33H248.60M248.04 321.07H247.07V321.48H247.47M248.60 268.48H247.07V268.78H247.40M248.06 271.65H247.07V272.06H247.39M247.19 217.89H247.07V218.24H248.60M248.60 214.96H247.07V215.17H248.60M248.60 284.47H247.06V284.67H248.60M248.14 287.19H247.06V287.65H247.90M248.60 231.78H247.05V231.98H248.60M248.11 299.95H247.05V300.36H247.56M248.60 211.07H247.05V211.27H248.60M248.60 263.35H247.04V263.56H248.60M248.60 236.49H247.03V236.70H248.60M248.60 351.31H247.03V351.51H248.60M248.60 221.32H247.02V221.52H248.60M247.07 271.86H247.02V272.37H248.60M247.08 303.23H247.02V303.54H248.60M247.11 219.99H247.02V220.40H247.36M248.60 329.58H247.02V329.88H247.41M248.60 246.95H247.01V247.15H248.60M248.60 208.61H247.01V208.81H248.60M247.32 290.47H247.01V290.93H247.95M248.60 276.68H247.01V276.88H248.60M248.60 215.58H247.01V215.78H248.60M248.60 266.84H247.00V267.04H248.60M248.17 253.00H247.00V253.30H248.60M247.09 297.28H247.00V298.05H247.55M248.60 367.71H246.99V367.92H248.60M248.60 377.35H246.99V377.55H248.60M248.60 298.82H246.98V299.03H248.60M248.60 316.86H246.97V317.07H248.60M248.60 318.71H246.97V318.91H248.60M247.55 227.83H246.96V228.29H248.60M247.61 379.09H246.96V379.40H248.60M248.60 238.95H246.96V239.54H247.46M248.60 258.22H246.95V258.58H247.46M248.60 368.12H246.95V368.43H247.16M247.30 314.25H246.94V314.61H248.60M248.60 313.79H246.94V314.43H246.94M248.60 228.50H246.94V228.70H248.60M248.60 319.12H246.94V319.32H248.60M248.60 249.82H246.93V250.02H248.60M248.60 213.12H246.93V213.43H247.95M248.60 240.80H246.92V241.10H247.46M248.60 376.32H246.92V376.53H248.60M248.60 343.52H246.91V343.82H247.81M248.60 223.78H246.91V224.09H248.15M248.60 261.10H246.91V261.30H248.60M247.03 351.41H246.90V351.72H248.60M247.06 284.57H246.90V284.88H248.60M247.26 322.14H246.90V322.71H248.08M247.40 270.63H246.89V270.94H248.60M248.60 360.74H246.89V361.20H247.33M247.95 299.33H246.89V299.64H248.60M248.60 324.86H246.88V325.17H247.66M248.60 285.90H246.88V286.11H248.60M247.56 344.59H246.88V344.95H248.60M246.92 376.42H246.88V376.73H248.60M247.63 255.46H246.88V256.07H247.54M247.53 230.44H246.87V230.75H248.60M248.60 242.64H246.86V242.95H247.79M247.76 242.33H246.85V242.80H246.86M247.83 339.31H246.85V339.62H248.60M248.60 261.92H246.85V262.12H248.60M247.93 355.10H246.85V355.51H247.80M248.60 296.16H246.85V296.36H248.60M247.18 327.27H246.84V327.73H248.60M248.60 348.64H246.83V349.10H247.55M248.60 292.05H246.83V292.26H248.60M247.58 232.29H246.83V232.60H248.60M248.60 333.27H246.83V333.47H248.60M248.60 253.71H246.82V253.92H248.60M247.41 251.31H246.81V251.66H248.60M248.60 375.50H246.81V375.71H248.60M247.60 366.17H246.81V366.87H247.89M248.60 224.60H246.80V224.80H248.60M247.50 226.14H246.80V226.45H248.60M248.60 276.47H246.80V276.78H247.01M247.51 264.68H246.80V264.99H248.60M248.60 354.38H246.79V354.59H248.60M248.60 311.33H246.78V311.53H248.60M247.27 233.31H246.78V233.88H247.54M247.01 247.05H246.77V247.36H248.60M247.82 319.84H246.77V320.40H247.13M248.60 259.25H246.76V259.56H248.17M248.60 375.30H246.76V375.60H246.81M248.06 315.74H246.75V316.15H248.13M248.04 252.59H246.75V253.15H247.00M248.60 267.66H246.74V267.96H247.87M247.28 364.48H246.74V364.84H248.60M246.81 366.52H246.72V367.40H247.86M247.73 289.29H246.72V289.59H248.60M248.60 210.66H246.72V210.86H248.60M247.19 209.68H246.71V210.45H248.60M247.59 218.76H246.71V219.06H248.60M248.60 345.36H246.71V345.82H247.82M248.60 378.17H246.71V378.47H247.85M246.78 311.43H246.71V311.74H248.60M246.94 228.60H246.70V229.16H247.45M248.60 293.69H246.70V294.12H247.17M248.60 269.09H246.69V269.55H247.95M248.60 257.20H246.68V257.40H248.60M248.60 336.14H246.68V336.44H247.87M246.93 249.92H246.68V250.23H248.60M248.60 222.75H246.67V222.96H248.60M247.80 301.23H246.67V301.79H248.14M247.02 272.12H246.67V272.58H248.60M248.60 356.02H246.67V356.23H248.60M248.60 250.84H246.66V251.48H246.81M248.60 247.56H246.65V247.87H247.19M248.60 275.24H246.64V275.67H247.29M248.60 308.05H246.64V308.35H248.07M247.05 211.17H246.64V211.48H248.60M246.75 252.87H246.63V253.51H248.60M248.60 225.21H246.63V225.42H248.60M248.60 271.14H246.63V271.35H248.60M248.00 337.88H246.62V338.29H247.59M248.60 346.80H246.62V347.00H248.60M248.60 234.65H246.61V234.85H248.60M247.62 260.17H246.61V260.74H247.60M248.60 212.91H246.61V213.27H246.93M247.37 374.17H246.59V374.48H248.60M247.43 341.36H246.59V341.88H248.60M248.60 321.78H246.59V322.42H246.90M247.40 248.90H246.59V249.46H248.22M246.74 364.66H246.59V365.05H248.60M247.42 309.99H246.59V310.30H248.60M247.31 246.23H246.59V247.20H246.77M248.60 214.55H246.58V214.76H248.60M247.45 279.80H246.58V280.16H248.60M246.67 356.13H246.58V356.61H247.11M248.60 357.25H246.58V357.46H248.60M248.14 372.94H246.57V373.35H247.59M248.60 267.45H246.57V267.81H246.74M248.60 313.38H246.57V313.58H248.60M246.62 346.90H246.57V347.21H248.60M247.53 231.47H246.56V231.88H247.05M247.72 211.79H246.56V212.20H247.46M248.60 280.57H246.56V280.88H247.44M248.60 279.14H246.56V279.34H248.60M248.09 266.53H246.56V266.94H247.00M247.70 349.77H246.55V350.08H248.60M247.46 328.86H246.55V329.27H247.75M248.60 306.61H246.55V306.82H248.60M248.60 348.44H246.53V348.87H246.83M246.55 349.92H246.53V350.28H248.60M248.60 342.90H246.53V343.11H248.60M248.60 346.59H246.52V347.05H246.57M248.60 370.38H246.52V370.68H248.13M247.18 230.03H246.51V230.60H246.87M248.60 282.62H246.49V282.83H248.60M246.71 345.59H246.48V346.18H248.60M248.60 354.79H246.47V355.31H246.85M248.60 332.65H246.46V332.86H248.60M248.60 365.66H246.45V365.87H248.60M248.60 375.09H246.44V375.45H246.76M248.60 333.88H246.44V334.09H248.60M247.24 350.59H246.44V350.90H248.60M247.96 347.72H246.44V348.13H247.56M248.60 221.73H246.44V221.93H248.60M246.68 250.07H246.42V250.54H247.10M247.23 226.75H246.42V227.06H248.60M248.60 265.20H246.41V265.50H247.44M246.88 376.58H246.41V376.94H248.60M248.60 377.96H246.41V378.32H246.71M246.85 242.57H246.40V243.51H247.46M246.71 311.58H246.40V312.05H247.53M247.13 244.39H246.40V244.90H248.60M248.60 281.19H246.40V281.39H248.60M246.49 282.73H246.39V283.03H248.60M247.61 315.12H246.38V315.43H248.60M247.16 371.97H246.38V372.43H248.60M246.88 286.01H246.37V286.31H248.60M246.91 261.20H246.37V261.51H248.60M248.60 357.66H246.37V357.97H247.79M248.60 219.27H246.37V219.47H248.60M247.70 270.22H246.37V270.78H246.89M248.60 262.33H246.36V262.53H248.60M246.62 338.08H246.36V338.70H247.12M248.60 231.16H246.36V231.67H246.56M248.60 362.38H246.36V362.59H248.60M248.60 308.87H246.35V309.17H247.24M248.60 304.97H246.34V305.28H247.89M247.40 369.30H246.34V369.76H248.60M248.60 334.29H246.34V334.93H247.09M248.60 353.97H246.32V354.18H248.60M246.91 343.67H246.32V344.13H248.60M247.57 328.24H246.31V328.55H248.60M247.27 264.27H246.31V264.84H246.80M248.60 332.24H246.31V332.45H248.60M248.60 217.01H246.30V217.22H248.60M246.44 350.74H246.30V351.10H248.60M248.60 229.73H246.30V230.32H246.51M246.41 378.14H246.30V378.78H248.60M246.40 281.29H246.29V281.85H247.18M248.60 230.96H246.29V231.42H246.36M248.22 374.78H246.27V375.27H246.44M248.60 326.50H246.27V327.50H246.84M247.77 371.15H246.24V371.61H248.60M248.60 307.02H246.24V307.23H248.60M246.64 308.20H246.24V308.66H248.60M248.60 254.12H246.23V254.43H247.65M248.60 323.01H246.23V323.22H248.60M247.12 237.41H246.23V238.13H248.60M246.34 305.13H246.22V305.59H248.60M248.60 292.46H246.21V292.67H248.60M246.46 332.75H246.20V333.06H248.60M246.66 251.16H246.19V251.87H248.60M247.19 288.72H246.19V289.44H246.72M246.88 255.76H246.19V256.48H247.27M248.60 266.22H246.18V266.73H246.56M248.60 363.82H246.18V364.02H248.60M246.89 299.49H246.18V300.15H247.05M246.99 377.45H246.17V377.76H248.60M246.70 293.91H246.17V295.03H247.55M246.37 261.35H246.17V261.71H248.60M248.60 336.75H246.17V336.96H248.60M247.53 360.28H246.17V360.97H246.89M247.02 303.38H246.16V303.90H247.57M247.30 306.05H246.16V306.41H248.60M248.60 317.68H246.16V317.89H248.60M248.60 273.19H246.14V273.40H248.60M248.60 339.01H246.14V339.47H246.85M246.64 275.45H246.14V276.63H246.80M247.06 287.42H246.14V288.11H247.24M247.44 278.57H246.13V278.93H248.60M248.60 312.35H246.13V312.56H248.60M247.55 256.89H246.12V257.30H246.68M246.24 308.43H246.12V309.02H246.35M247.48 359.20H246.12V359.51H248.60M246.70 228.88H246.12V229.52H248.60M246.63 253.19H246.11V253.82H246.82M248.60 225.01H246.10V225.32H246.63M248.60 332.04H246.10V332.34H246.31M247.04 263.45H246.09V263.86H247.30M247.34 317.38H246.09V317.79H246.16M246.59 246.72H246.09V247.72H246.65M248.60 352.33H246.09V352.85H247.28M248.60 347.41H246.08V347.93H246.44M247.93 286.62H246.08V287.76H246.14M247.07 218.06H246.08V218.45H248.60M246.58 279.98H246.08V280.37H248.60M247.38 296.67H246.07V297.67H247.00M246.56 211.99H246.05V212.50H248.60M247.37 342.59H246.04V343.00H246.53M246.83 333.37H246.03V333.68H248.60M247.01 290.70H246.03V291.23H248.60M246.85 262.02H246.03V262.43H246.36M246.90 351.56H246.00V352.03H247.41M247.77 323.73H245.98V324.14H247.20M246.12 257.10H245.97V257.71H247.95M246.08 287.19H245.96V289.08H246.19M247.49 295.44H245.96V295.85H247.45M246.16 303.64H245.95V304.51H247.09M248.60 314.81H245.93V315.27H246.38M248.60 331.63H245.93V331.83H248.60M246.58 357.36H245.93V357.82H246.37M245.93 315.04H245.92V315.94H246.75M247.02 329.73H245.92V330.45H247.15M248.60 363.20H245.92V363.51H247.92M248.60 291.44H245.91V291.75H247.55M246.30 230.02H245.90V231.19H246.29M246.22 305.36H245.89V306.23H246.16M248.02 289.90H245.89V290.97H246.03M248.60 215.37H245.89V215.68H247.01M248.60 235.06H245.89V235.52H247.22M246.56 280.73H245.88V281.57H246.29M248.60 258.02H245.88V258.40H246.95M247.32 342.18H245.88V342.80H246.04M245.97 257.40H245.87V258.21H245.88M246.08 218.26H245.87V218.91H246.71M246.78 233.60H245.87V234.34H247.34M245.90 230.60H245.87V232.44H246.83M248.60 243.87H245.85V244.64H246.40M247.34 373.76H245.84V374.32H246.59M248.60 302.31H245.83V302.51H248.60M247.18 277.65H245.83V278.11H248.60M247.35 238.49H245.82V239.25H246.96M248.60 320.76H245.82V321.27H247.07M248.60 215.99H245.81V216.37H247.13M246.23 237.77H245.80V238.87H245.82M246.34 369.53H245.79V370.07H247.56M246.18 299.82H245.79V300.67H248.60M248.60 269.91H245.79V270.50H246.37M246.67 222.86H245.78V223.42H247.41M246.36 362.48H245.78V362.89H247.37M247.58 285.55H245.76V286.16H246.37M248.04 241.77H245.76V243.04H246.40M246.30 378.46H245.76V379.24H246.96M248.60 212.71H245.76V213.09H246.61M246.12 308.73H245.75V309.58H247.42M246.79 354.49H245.74V355.05H246.47M247.02 220.19H245.72V220.81H247.59M248.60 225.83H245.72V226.29H246.80M246.32 343.90H245.72V344.77H246.88M248.60 259.87H245.72V260.45H246.61M245.98 323.94H245.70V324.55H247.91M245.78 223.14H245.70V223.93H246.91M245.84 374.04H245.70V375.03H246.27M245.95 304.07H245.69V305.79H245.89M246.72 210.76H245.68V211.32H246.64M245.72 220.50H245.67V221.11H248.60M246.12 359.36H245.67V359.71H248.60M246.09 263.66H245.65V264.56H246.31M248.60 268.27H245.65V268.63H247.07M245.72 260.16H245.64V261.53H246.17M246.67 272.35H245.63V272.78H248.60M246.14 273.29H245.61V273.76H247.59M247.63 227.37H245.61V228.06H246.96M246.85 296.26H245.61V297.17H246.07M246.03 262.22H245.60V262.84H247.72M246.67 301.51H245.59V302.10H248.60M245.61 273.53H245.59V274.22H248.60M246.31 328.40H245.59V329.06H246.55M248.60 358.69H245.58V358.89H248.60M247.86 232.90H245.57V233.97H245.87M245.88 281.15H245.55V282.32H247.31M246.97 318.81H245.55V319.22H246.94M246.99 367.81H245.55V368.27H246.95M247.21 222.24H245.54V222.55H248.60M246.48 345.89H245.54V346.39H248.60M246.23 254.28H245.54V254.74H248.60M246.21 292.57H245.54V293.03H247.13M248.60 240.59H245.52V240.95H246.92M245.65 268.45H245.52V269.32H246.69M246.44 221.83H245.52V222.40H245.54M245.89 290.43H245.51V291.59H245.91M246.17 360.62H245.50V361.74H247.28M248.60 323.42H245.50V324.24H245.70M246.88 325.01H245.48V325.47H248.60M248.60 245.10H245.47V245.41H247.73M248.60 318.30H245.46V318.50H248.60M247.50 353.51H245.45V354.08H246.32M245.61 227.71H245.43V229.20H246.12M245.83 277.88H245.43V278.75H246.13M246.41 265.35H245.42V265.81H248.60M248.60 377.14H245.42V377.60H246.17M247.38 325.78H245.42V326.19H247.36M246.08 347.67H245.42V348.66H246.53M245.55 319.02H245.42V319.53H248.60M248.60 267.25H245.41V267.63H246.57M248.60 274.42H245.39V274.78H247.50M246.09 247.22H245.38V248.18H248.60M247.01 208.71H245.37V209.02H248.60M248.60 340.65H245.36V340.85H248.60M246.58 356.37H245.33V357.59H245.93M247.03 236.59H245.32V238.32H245.80M248.60 254.94H245.31V256.12H246.19M246.71 210.07H245.31V211.04H245.68M247.40 310.61H245.30V310.92H248.60M248.60 300.87H245.29V301.81H245.59M246.72 366.96H245.28V368.04H245.55M246.09 317.58H245.27V318.09H248.60M245.85 244.26H245.27V245.26H245.47M246.52 370.53H245.26V371.38H246.24M248.60 219.68H245.26V220.81H245.67M245.54 346.14H245.25V346.82H246.52M245.72 226.06H245.25V226.91H246.42M245.83 302.41H245.25V302.72H248.60M247.10 236.03H245.25V237.46H245.32M246.34 334.61H245.24V335.70H247.38M246.59 364.85H245.24V365.25H248.60M246.59 322.10H245.23V323.12H246.23M248.60 283.24H245.22V283.78H247.28M246.98 298.92H245.21V300.24H245.79M245.42 377.37H245.21V378.85H245.76M246.45 365.76H245.20V367.50H245.28M245.92 363.35H245.20V363.92H246.18M248.60 307.84H245.19V309.16H245.75M246.59 341.62H245.19V342.49H245.88M246.18 266.48H245.17V267.44H245.41M246.09 352.59H245.16V353.79H245.45M245.76 242.41H245.16V244.76H245.27M248.60 224.39H245.15V224.70H246.80M248.60 259.04H245.14V259.40H246.76M246.42 250.31H245.12V251.52H246.19M245.25 226.48H245.12V228.46H245.43M248.60 263.15H245.08V264.11H245.65M246.39 282.88H245.07V283.51H245.22M245.26 220.24H245.06V221.42H247.02M245.92 330.09H245.06V331.06H247.51M246.03 333.52H245.03V333.98H246.44M245.38 247.70H245.03V248.38H248.60M246.27 327.00H245.02V327.93H248.60M246.14 339.24H245.02V339.93H247.74M246.41 376.76H245.01V378.11H245.21M246.53 350.10H245.00V350.92H246.30M245.57 233.44H245.00V234.75H246.61M245.67 359.54H245.00V359.92H248.60M246.17 336.85H244.99V337.16H248.60M245.50 323.83H244.98V325.24H245.48M248.60 240.18H244.97V240.39H248.60M245.08 263.63H244.94V265.58H245.42M248.60 277.09H244.90V277.29H248.60M245.33 356.98H244.89V358.38H247.26M247.11 307.53H244.88V308.50H245.19M248.60 217.42H244.85V218.58H245.87M245.16 353.19H244.84V354.77H245.74M245.39 274.60H244.84V276.04H246.14M247.79 340.34H244.83V340.75H245.36M245.14 259.22H244.82V260.85H245.64M248.60 293.49H244.81V294.47H246.17M248.60 208.40H244.81V208.86H245.37M248.60 285.08H244.79V285.85H245.76M246.57 373.14H244.79V374.53H245.70M245.50 361.18H244.79V362.69H245.78M246.10 225.16H244.78V225.63H248.60M245.06 220.83H244.77V222.11H245.52M245.96 295.64H244.77V296.71H245.61M244.79 285.47H244.76V288.14H245.96M245.26 370.95H244.75V372.20H246.38M248.60 213.94H244.75V214.25H247.30M245.31 210.56H244.69V212.25H246.05M245.42 319.27H244.69V320.12H246.77M245.43 278.32H244.67V279.24H246.56M248.60 311.12H244.63V311.81H246.40M245.03 333.75H244.62V335.16H245.24M245.92 315.49H244.60V316.45H248.60M245.07 283.19H244.59V284.72H246.90M245.19 342.06H244.57V343.31H248.60M246.57 313.48H244.51V314.11H246.94M244.99 337.01H244.50V337.47H247.55M244.88 308.02H244.47V310.15H246.59M245.81 216.18H244.46V217.12H246.30M245.59 328.73H244.45V330.57H245.06M246.36 338.39H244.45V339.58H245.02M244.57 342.68H244.44V344.34H245.72M244.82 260.03H244.41V262.53H245.60M246.13 312.46H244.40V313.02H247.13M246.59 249.18H244.39V250.91H245.12M244.77 221.47H244.38V223.54H245.70M246.68 336.29H244.38V337.24H244.50M245.21 299.58H244.32V301.34H245.29M244.60 315.97H244.31V316.66H248.60M245.55 281.73H244.31V283.96H244.59M245.00 350.51H244.30V351.80H246.00M248.60 241.41H244.30V243.58H245.16M245.79 270.21H244.28V271.24H246.63M245.27 317.84H244.26V318.40H245.46M244.40 312.74H244.25V313.79H244.51M246.24 307.12H244.23V309.08H244.47M245.31 255.53H244.23V257.81H245.87M244.69 211.40H244.22V212.90H245.76M245.42 348.16H244.22V349.46H248.60M244.79 373.84H244.20V376.01H247.30M244.67 278.78H244.20V280.18H246.08M244.69 319.70H244.19V321.02H245.82M245.59 273.87H244.19V275.32H244.84M245.89 215.53H244.18V216.65H244.46M245.93 331.73H244.18V332.19H246.10M245.30 310.76H244.16V311.47H244.63M244.28 270.73H244.15V272.56H245.63M244.39 250.04H244.15V252.18H247.36M244.84 353.98H244.15V355.82H248.60M245.54 292.80H244.10V293.98H244.81M244.98 324.54H244.07V325.99H245.42M244.97 240.28H244.06V240.77H245.52M244.44 343.51H244.04V345.16H248.60M245.20 363.64H244.03V365.05H245.24M248.60 365.46H244.02V366.63H245.20M244.31 316.32H244.02V316.97H246.97M246.83 292.16H244.02V293.39H244.10M244.22 348.81H243.99V351.15H244.30M248.60 239.98H243.98V240.53H244.06M244.41 261.28H243.94V264.60H244.94M245.79 369.80H243.93V371.57H244.75M247.07 215.07H243.92V216.09H244.18M244.38 336.76H243.89V338.99H244.45M244.75 214.09H243.84V214.66H246.58M245.00 359.73H243.83V361.93H244.79M244.77 296.18H243.77V298.51H247.52M244.04 344.33H243.75V346.48H245.25M244.15 251.11H243.74V253.50H246.11M244.76 286.80H243.74V291.01H245.51M245.00 234.09H243.73V235.29H245.89M244.90 277.19H243.71V279.48H244.20M246.55 306.71H243.67V308.10H244.23M244.30 242.50H243.66V248.04H245.03M244.81 208.63H243.65V212.15H244.22M244.78 225.39H243.54V227.47H245.12M243.77 297.35H243.54V300.46H244.32M244.20 374.93H243.48V377.44H245.01M245.25 302.56H243.47V302.92H248.60M243.73 234.69H243.42V236.74H245.25M246.20 332.91H243.39V334.45H244.62M243.92 215.58H243.32V218.00H244.85M244.19 320.36H243.28V322.61H245.23M243.94 262.94H243.24V266.02H248.60M244.25 313.27H243.20V316.64H244.02M245.69 304.93H243.19V307.41H243.67M244.89 357.68H243.14V358.79H245.58M244.83 340.54H243.12V345.41H243.75M245.87 231.52H243.09V235.72H243.42M244.31 282.85H243.03V288.91H243.74M243.24 264.48H243.01V266.96H245.17M243.54 298.90H242.96V302.74H243.47M243.83 360.83H242.95V364.34H244.03M245.52 268.89H242.94V271.64H244.15M244.23 256.67H242.78V265.72H243.01M244.15 354.90H242.75V358.24H243.14M243.54 226.43H242.67V233.62H243.09M243.20 314.95H242.64V318.12H244.26M243.03 285.88H242.64V292.77H244.02M243.74 252.31H242.61V254.51H245.54M243.19 306.17H242.55V311.12H244.16M243.98 240.25H242.46V245.27H243.66M243.28 321.48H242.37V325.26H244.07M242.95 362.59H242.32V366.04H244.02M246.37 219.37H242.31V222.50H244.38M248.60 213.73H242.30V214.37H243.84M243.99 349.98H242.27V356.57H242.75M245.02 327.47H242.17V329.65H244.45M242.78 261.19H242.14V270.27H242.94M242.37 323.37H242.09V328.56H242.17M243.89 337.88H242.07V342.98H243.12M243.93 370.69H241.96V372.63H248.60M243.39 333.68H241.93V340.43H242.07M244.19 274.60H241.89V278.33H243.71M242.31 220.94H241.89V224.55H245.15M242.09 325.97H241.86V331.42H248.60M242.61 253.41H241.79V265.73H242.14M241.86 328.69H241.62V331.96H244.18M242.32 364.32H241.40V371.66H241.96M243.65 210.39H240.98V214.05H242.30M241.89 276.46H240.89V289.32H242.64M241.40 367.99H240.45V376.18H243.48M248.60 248.59H240.42V259.57H241.79M240.89 282.89H240.23V300.82H242.96M240.98 212.22H240.16V216.79H243.32M240.23 291.86H240.14V308.64H242.55M241.89 222.74H240.08V230.03H242.67M242.64 316.54H239.87V330.33H241.62M242.46 242.76H239.85V254.08H240.42M240.16 214.51H239.70V226.38H240.08M240.14 300.25H239.44V323.43H239.87M241.93 337.05H239.41V353.28H242.27M239.41 345.16H239.17V372.08H240.45M239.85 248.42H238.13V272.99H248.60M238.13 260.70H236.84V311.84H239.44M239.70 220.45H234.35V286.27H236.84M234.35 253.36H227.80V358.62H239.17" fill="none" stroke="#000" stroke-width="0.36"/>
<path d="M472.50 275.48H471.51V276.84H472.50M472.50 360.98H471.18V362.34H472.50M472.50 286.34H471.12V287.69H472.50M472.50 244.26H471.11V245.62H472.50M472.50 377.26H470.95V378.62H472.50M472.50 260.55H470.67V261.91H472.50M472.50 265.98H470.60V267.34H472.50M472.50 375.91H470.57V377.94H470.95M472.50 252.41H470.47V253.76H472.50M472.50 221.19H470.40V222.55H472.50M472.50 302.62H470.27V303.98H472.50M472.50 246.98H470.03V248.34H472.50M472.50 324.34H470.02V325.69H472.50M472.50 369.12H469.87V370.48H472.50M470.67 261.23H469.85V263.26H472.50M472.50 308.05H469.76V309.41H472.50M472.50 316.19H469.76V317.55H472.50M472.50 339.26H469.65V340.62H472.50M472.50 293.12H469.64V294.48H472.50M471.18 361.66H469.52V363.69H472.50M472.50 301.26H469.51V303.30H470.27M472.50 312.12H469.13V313.48H472.50M469.52 362.68H469.06V365.05H472.50M472.50 297.19H469.01V298.55H472.50M472.50 359.62H468.97V363.86H469.06M472.50 210.34H468.95V211.69H472.50M469.51 302.28H468.83V305.34H472.50M472.50 217.12H468.80V218.48H472.50M472.50 366.41H468.80V367.76H472.50M469.76 316.87H468.75V318.91H472.50M472.50 225.26H468.62V226.62H472.50M472.50 214.41H468.61V215.76H472.50M472.50 374.55H468.60V376.93H470.57M472.50 234.76H468.60V236.12H472.50M471.51 276.16H468.57V278.19H472.50M472.50 351.48H468.56V352.84H472.50M469.64 293.80H468.43V295.84H472.50M472.50 356.91H468.40V358.26H472.50M472.50 355.55H468.26V357.59H468.40M472.50 328.41H468.15V329.76H472.50M472.50 238.84H468.12V240.19H472.50M472.50 264.62H468.10V266.66H470.60M472.50 344.69H468.04V346.05H472.50M472.50 336.55H467.99V337.91H472.50M472.50 268.69H467.99V270.05H472.50M467.99 269.37H467.99V271.41H472.50M472.50 213.05H467.98V215.09H468.61M472.50 306.69H467.96V308.73H469.76M471.12 287.01H467.96V289.05H472.50M472.50 343.34H467.93V345.37H468.04M472.50 347.41H467.88V348.76H472.50M470.47 253.09H467.79V255.12H472.50M472.50 249.69H467.76V251.05H472.50M472.50 350.12H467.75V352.16H468.56M472.50 242.91H467.58V244.94H471.11M467.99 270.39H467.58V272.76H472.50M472.50 208.98H467.44V211.01H468.95M472.50 230.69H467.44V232.05H472.50M472.50 274.12H467.39V277.18H468.57M472.50 290.41H467.24V291.76H472.50M472.50 257.84H467.19V259.19H472.50M469.85 262.25H467.17V265.64H468.10M467.96 307.71H467.10V310.76H472.50M469.13 312.80H467.09V314.84H472.50M472.50 280.91H467.08V282.26H472.50M467.09 313.82H467.06V317.89H468.75M472.50 283.62H466.97V284.98H472.50M469.87 369.80H466.88V371.84H472.50M468.60 235.44H466.88V237.48H472.50M472.50 241.55H466.79V243.93H467.58M467.17 263.94H466.78V271.58H467.58M467.88 348.09H466.73V351.14H467.75M472.50 219.84H466.68V221.87H470.40M468.97 361.74H466.64V367.09H468.80M466.68 220.85H466.61V223.91H472.50M469.65 339.94H466.59V341.98H472.50M472.50 321.62H466.58V322.98H472.50M467.10 309.24H466.48V315.85H467.06M472.50 233.41H466.39V236.46H466.88M469.01 297.87H466.18V299.91H472.50M472.50 373.19H466.06V375.74H468.60M467.79 254.10H465.99V256.48H472.50M472.50 333.84H465.83V335.19H472.50M472.50 331.12H465.80V332.48H472.50M467.98 214.07H465.80V217.80H468.80M472.50 229.34H465.78V231.37H467.44M466.58 322.30H465.76V325.01H470.02M468.12 239.51H465.73V242.74H466.79M466.39 234.93H465.67V241.13H465.73M466.59 340.96H465.49V344.35H467.93M472.50 320.26H465.45V323.66H465.76M466.61 222.38H465.39V225.94H468.62M467.24 291.09H465.27V294.82H468.43M465.45 321.96H465.20V327.05H472.50M466.78 267.76H465.19V275.65H467.39M465.99 255.29H465.18V258.51H467.19M466.88 370.82H465.05V374.47H466.06M465.78 230.35H464.93V238.03H465.67M466.73 349.61H464.70V354.19H472.50M467.99 337.23H464.55V342.66H465.49M472.50 279.55H464.34V281.59H467.08M466.48 312.55H464.21V324.51H465.20M472.50 227.98H464.04V234.19H464.93M464.55 339.94H464.04V351.90H464.70M466.18 298.89H464.04V303.81H468.83M466.64 364.41H464.01V372.64H465.05M467.76 250.37H463.82V256.90H465.18M465.80 215.93H463.69V224.16H465.39M464.34 280.57H463.38V284.30H466.97M463.38 282.43H463.29V288.03H467.96M468.15 329.09H462.37V331.80H465.80M463.69 220.05H462.32V231.09H464.04M465.83 334.51H462.04V345.92H464.04M463.82 253.64H461.77V271.70H465.19M468.26 356.57H461.31V368.53H464.01M463.29 285.23H461.26V292.95H465.27M464.21 318.53H460.88V330.44H462.37M470.03 247.66H460.25V262.67H461.77M462.04 340.22H459.99V362.55H461.31M460.25 255.16H459.64V289.09H461.26M467.44 210.00H459.31V225.57H462.32M460.88 324.48H458.16V351.38H459.99M464.04 301.35H457.98V337.93H458.16M459.31 217.78H456.97V272.13H459.64M456.97 244.95H451.50V319.64H457.98" fill="none" stroke="#222" stroke-width="0.36"/>
<defs><linearGradient id="gb" x1="0" y1="0" x2="0" y2="1"><stop offset="0" stop-color="#c02a3a"/><stop offset="0.5" stop-color="#ffffff"/><stop offset="1" stop-color="#3272b4"/></linearGradient></defs>
<rect x="197.3" y="207.7" width="4.0" height="60.80000000000001" fill="url(#gb)"/>
<text x="203.10" y="210.05" class="H">2</text>
<text x="203.10" y="218.15" class="H">1.5</text>
<text x="203.10" y="226.25" class="H">1</text>
<text x="203.10" y="234.35" class="H">0.5</text>
<text x="203.10" y="242.45" class="H">0</text>
<text x="203.10" y="250.55" class="H">−0.5</text>
<text x="203.10" y="258.65" class="H">−1</text>
<text x="203.10" y="266.75" class="H">−1.5</text>
<defs><linearGradient id="gd" x1="0" y1="0" x2="0" y2="1"><stop offset="0" stop-color="#c02a3a"/><stop offset="0.5" stop-color="#ffffff"/><stop offset="1" stop-color="#3272b4"/></linearGradient></defs>
<rect x="416.0" y="207.8" width="3.8" height="60.89999999999998" fill="url(#gd)"/>
<text x="421.60" y="209.75" class="H">2</text>
<text x="421.60" y="217.78" class="H">1.5</text>
<text x="421.60" y="225.81" class="H">1</text>
<text x="421.60" y="233.84" class="H">0.5</text>
<text x="421.60" y="241.87" class="H">0</text>
<text x="421.60" y="249.90" class="H">−0.5</text>
<text x="421.60" y="257.93" class="H">−1</text>
<text x="421.60" y="265.96" class="H">−1.5</text>
<defs><linearGradient id="gf" x1="0" y1="0" x2="0" y2="1"><stop offset="0" stop-color="#c02a3a"/><stop offset="0.5" stop-color="#ffffff"/><stop offset="1" stop-color="#3272b4"/></linearGradient></defs>
<rect x="639.3" y="207.8" width="3.7" height="60.89999999999998" fill="url(#gf)"/>
<text x="644.80" y="209.75" class="H">2</text>
<text x="644.80" y="218.40" class="H">1.5</text>
<text x="644.80" y="227.05" class="H">1</text>
<text x="644.80" y="235.70" class="H">0.5</text>
<text x="644.80" y="244.35" class="H">0</text>
<text x="644.80" y="253.00" class="H">−0.5</text>
<text x="644.80" y="261.65" class="H">−1</text>
<text transform="translate(42.60,380.60) rotate(90)" class="C">MNXO21C02-1</text>
<text transform="translate(70.10,380.60) rotate(90)" class="C">MNXO21C02-2</text>
<text transform="translate(97.60,380.60) rotate(90)" class="C">MNXO21C02-3</text>
<text transform="translate(125.10,380.60) rotate(90)" class="C">MNXO5C02-1</text>
<text transform="translate(152.60,380.60) rotate(90)" class="C">MNXO5C02-2</text>
<text transform="translate(180.10,380.60) rotate(90)" class="C">MNXO5C02-3</text>
<text transform="translate(261.20,381.10) rotate(90)" class="C">MNXO21C02-1</text>
<text transform="translate(288.70,381.10) rotate(90)" class="C">MNXO21C02-2</text>
<text transform="translate(316.20,381.10) rotate(90)" class="C">MNXO21C02-3</text>
<text transform="translate(343.70,381.10) rotate(90)" class="C">MNXO5C02-1</text>
<text transform="translate(371.20,381.10) rotate(90)" class="C">MNXO5C02-2</text>
<text transform="translate(398.70,381.10) rotate(90)" class="C">MNXO5C02-3</text>
<text transform="translate(485.07,380.90) rotate(90)" class="C">MNXO21C02-1</text>
<text transform="translate(512.52,380.90) rotate(90)" class="C">MNXO21C02-2</text>
<text transform="translate(539.98,380.90) rotate(90)" class="C">MNXO21C02-3</text>
<text transform="translate(567.42,380.90) rotate(90)" class="C">MNXO5C02-1</text>
<text transform="translate(594.88,380.90) rotate(90)" class="C">MNXO5C02-2</text>
<text transform="translate(622.32,380.90) rotate(90)" class="C">MNXO5C02-3</text>
</svg>
</body></html>
